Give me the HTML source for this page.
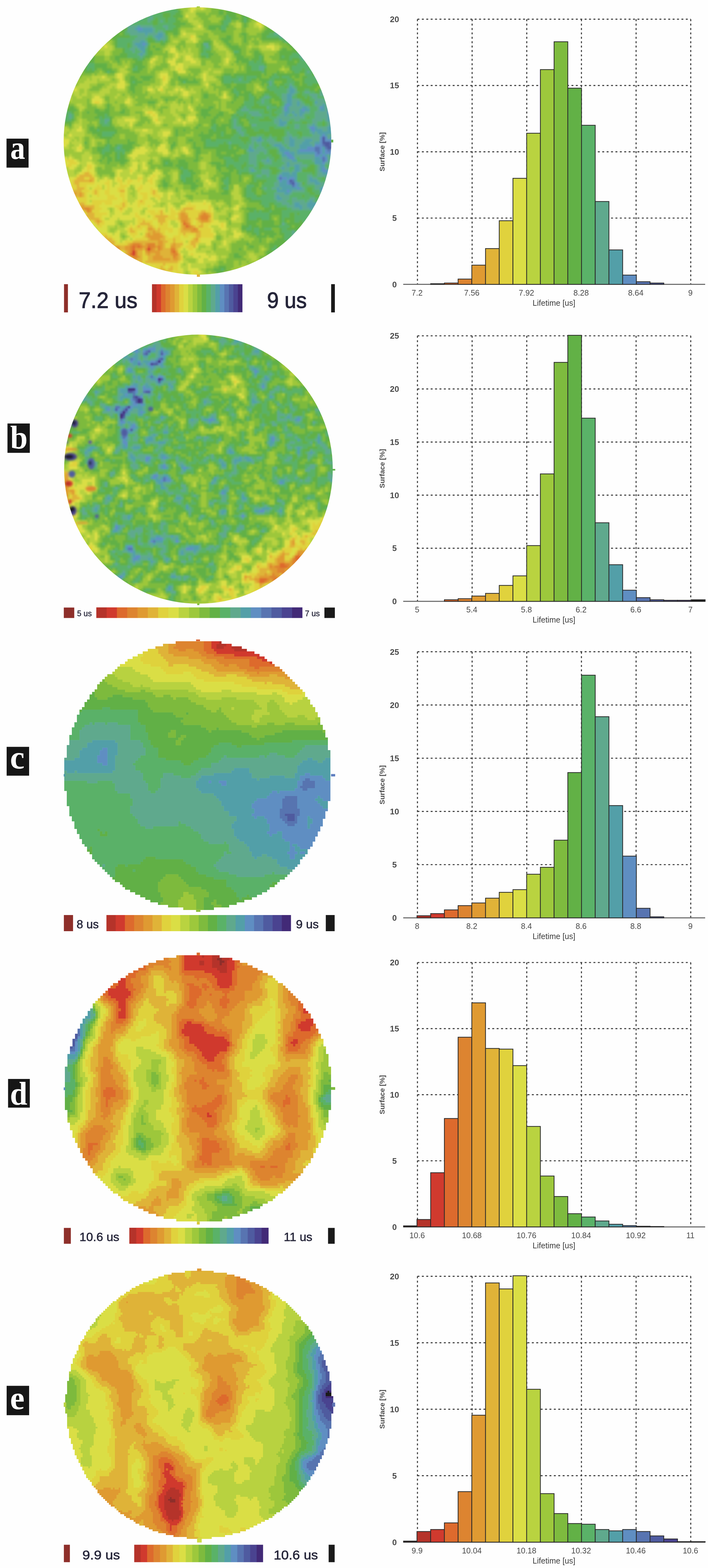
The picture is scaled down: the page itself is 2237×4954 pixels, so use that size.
<!DOCTYPE html>
<html lang="en"><head><meta charset="utf-8"><title>Lifetime maps and histograms</title>
<style>
html,body{margin:0;padding:0;background:#fefefe;}
body{width:2237px;height:4954px;}
svg{display:block;}
.tk{font-family:"Liberation Sans",Arial,sans-serif;font-size:25px;fill:#4a4a4a;}
.ty{font-family:"Liberation Sans",Arial,sans-serif;font-size:26px;font-weight:bold;fill:#4a4a4a;}
.ax{font-family:"Liberation Sans",Arial,sans-serif;font-size:25px;fill:#3c3c3c;}
.ay{font-family:"Liberation Sans",Arial,sans-serif;font-size:22.5px;font-weight:bold;fill:#4a4a4a;}
.lb{font-family:"Liberation Serif","Times New Roman",serif;font-weight:bold;font-size:103px;fill:#fff;}
.lg{font-family:"Liberation Sans",Arial,sans-serif;fill:#26263a;stroke:#26263a;}
.gr{stroke:#383838;stroke-width:3.2;stroke-dasharray:6.2 7.7;fill:none;}
.br{stroke:#2a2a2a;stroke-width:2.4;}
</style></head><body>
<svg width="2237" height="4954" viewBox="0 0 2237 4954" role="img" aria-label="Lifetime maps and histograms">
<rect x="0" y="0" width="2237" height="4954" fill="#fefefe"/>
<defs>
<clipPath id="cpa"><ellipse cx="624" cy="445.5" rx="422.9" ry="422.4"/></clipPath>
<filter id="fa" filterUnits="userSpaceOnUse" x="121.3" y="-57.2" width="1005.4" height="1005.4" color-interpolation-filters="sRGB">
<feGaussianBlur in="SourceGraphic" stdDeviation="14" result="b"/>
<feTurbulence type="fractalNoise" baseFrequency="0.03" numOctaves="2" seed="3" result="n"/>
<feColorMatrix in="n" type="matrix" values="1 0 0 0 0 1 0 0 0 0 1 0 0 0 0 0 0 0 0 1" result="g"/>
<feComposite in="b" in2="g" operator="arithmetic" k1="0" k2="1" k3="0.44" k4="-0.22" result="s"/>
<feComponentTransfer in="s"><feFuncR type="discrete" tableValues="0.816 0.816 0.816 0.816 0.816 0.816 0.816 0.816 0.816 0.816 0.816 0.816 0.816 0.816 0.867 0.867 0.867 0.867 0.867 0.867 0.867 0.867 0.867 0.867 0.867 0.867 0.867 0.875 0.875 0.875 0.875 0.875 0.875 0.875 0.875 0.875 0.875 0.875 0.875 0.878 0.878 0.878 0.878 0.878 0.878 0.878 0.878 0.878 0.878 0.878 0.878 0.878 0.878 0.878 0.878 0.878 0.878 0.878 0.878 0.878 0.878 0.878 0.878 0.878 0.878 0.878 0.878 0.878 0.878 0.855 0.855 0.855 0.855 0.855 0.855 0.855 0.855 0.855 0.855 0.855 0.855 0.855 0.855 0.855 0.725 0.725 0.725 0.725 0.725 0.725 0.725 0.725 0.725 0.725 0.725 0.725 0.725 0.725 0.616 0.616 0.616 0.616 0.616 0.616 0.616 0.616 0.616 0.616 0.616 0.616 0.616 0.616 0.616 0.616 0.494 0.494 0.494 0.494 0.494 0.494 0.494 0.494 0.494 0.494 0.494 0.494 0.494 0.494 0.494 0.494 0.494 0.494 0.494 0.494 0.384 0.384 0.384 0.384 0.384 0.384 0.384 0.384 0.384 0.384 0.384 0.384 0.384 0.384 0.384 0.384 0.384 0.384 0.353 0.353 0.353 0.353 0.353 0.353 0.353 0.353 0.353 0.353 0.353 0.353 0.353 0.353 0.353 0.353 0.353 0.353 0.353 0.373 0.373 0.373 0.373 0.373 0.373 0.373 0.373 0.373 0.373 0.373 0.373 0.373 0.373 0.373 0.373 0.325 0.325 0.325 0.325 0.325 0.325 0.325 0.325 0.325 0.325 0.325 0.325 0.325 0.373 0.373 0.373 0.373 0.373 0.373 0.373 0.373 0.373 0.373 0.373 0.373 0.345 0.345 0.345 0.345 0.345 0.345 0.345 0.345 0.345 0.345 0.310 0.310 0.310 0.310 0.310 0.310 0.310 0.310 0.310 0.310 0.310 0.310 0.310 0.310 0.310 0.310 0.310 0.310 0.310 0.310 0.310 0.310 0.310 0.310 0.310 0.310 0.310 0.310 0.310 0.310 0.310 0.310 0.310 0.310"/><feFuncG type="discrete" tableValues="0.227 0.227 0.227 0.227 0.227 0.227 0.227 0.227 0.227 0.227 0.227 0.227 0.227 0.227 0.416 0.416 0.416 0.416 0.518 0.518 0.518 0.518 0.518 0.518 0.518 0.518 0.518 0.604 0.604 0.604 0.604 0.604 0.604 0.604 0.604 0.604 0.604 0.604 0.604 0.702 0.702 0.702 0.702 0.702 0.702 0.702 0.702 0.702 0.702 0.702 0.702 0.702 0.702 0.824 0.824 0.824 0.824 0.824 0.824 0.824 0.824 0.824 0.824 0.824 0.824 0.824 0.824 0.824 0.824 0.871 0.871 0.871 0.871 0.871 0.871 0.871 0.871 0.871 0.871 0.871 0.871 0.871 0.871 0.871 0.827 0.827 0.827 0.827 0.827 0.827 0.827 0.827 0.827 0.827 0.827 0.827 0.827 0.827 0.784 0.784 0.784 0.784 0.784 0.784 0.784 0.784 0.784 0.784 0.784 0.784 0.784 0.784 0.784 0.784 0.733 0.733 0.733 0.733 0.733 0.733 0.733 0.733 0.733 0.733 0.733 0.733 0.733 0.733 0.733 0.733 0.733 0.733 0.733 0.733 0.694 0.694 0.694 0.694 0.694 0.694 0.694 0.694 0.694 0.694 0.694 0.694 0.694 0.694 0.694 0.694 0.694 0.694 0.698 0.698 0.698 0.698 0.698 0.698 0.698 0.698 0.698 0.698 0.698 0.698 0.698 0.698 0.698 0.698 0.698 0.698 0.698 0.663 0.663 0.663 0.663 0.663 0.663 0.663 0.663 0.663 0.663 0.663 0.663 0.663 0.663 0.663 0.663 0.624 0.624 0.624 0.624 0.624 0.624 0.624 0.624 0.624 0.624 0.624 0.624 0.624 0.557 0.557 0.557 0.557 0.557 0.557 0.557 0.557 0.557 0.557 0.557 0.557 0.455 0.455 0.455 0.455 0.455 0.455 0.455 0.455 0.455 0.455 0.357 0.357 0.357 0.357 0.357 0.357 0.357 0.357 0.357 0.357 0.357 0.357 0.357 0.357 0.357 0.357 0.357 0.357 0.357 0.357 0.357 0.357 0.357 0.357 0.357 0.357 0.357 0.357 0.357 0.357 0.357 0.357 0.357 0.357"/><feFuncB type="discrete" tableValues="0.180 0.180 0.180 0.180 0.180 0.180 0.180 0.180 0.180 0.180 0.180 0.180 0.180 0.180 0.176 0.176 0.176 0.176 0.188 0.188 0.188 0.188 0.188 0.188 0.188 0.188 0.188 0.196 0.196 0.196 0.196 0.196 0.196 0.196 0.196 0.196 0.196 0.196 0.196 0.220 0.220 0.220 0.220 0.220 0.220 0.220 0.220 0.220 0.220 0.220 0.220 0.220 0.220 0.239 0.239 0.239 0.239 0.239 0.239 0.239 0.239 0.239 0.239 0.239 0.239 0.239 0.239 0.239 0.239 0.271 0.271 0.271 0.271 0.271 0.271 0.271 0.271 0.271 0.271 0.271 0.271 0.271 0.271 0.271 0.251 0.251 0.251 0.251 0.251 0.251 0.251 0.251 0.251 0.251 0.251 0.251 0.251 0.251 0.235 0.235 0.235 0.235 0.235 0.235 0.235 0.235 0.235 0.235 0.235 0.235 0.235 0.235 0.235 0.235 0.243 0.243 0.243 0.243 0.243 0.243 0.243 0.243 0.243 0.243 0.243 0.243 0.243 0.243 0.243 0.243 0.243 0.243 0.243 0.243 0.275 0.275 0.275 0.275 0.275 0.275 0.275 0.275 0.275 0.275 0.275 0.275 0.275 0.275 0.275 0.275 0.275 0.275 0.408 0.408 0.408 0.408 0.408 0.408 0.408 0.408 0.408 0.408 0.408 0.408 0.408 0.408 0.408 0.408 0.408 0.408 0.408 0.553 0.553 0.553 0.553 0.553 0.553 0.553 0.553 0.553 0.553 0.553 0.553 0.553 0.553 0.553 0.553 0.659 0.659 0.659 0.659 0.659 0.659 0.659 0.659 0.659 0.659 0.659 0.659 0.659 0.761 0.761 0.761 0.761 0.761 0.761 0.761 0.761 0.761 0.761 0.761 0.761 0.694 0.694 0.694 0.694 0.694 0.694 0.694 0.694 0.694 0.694 0.627 0.627 0.627 0.627 0.627 0.627 0.627 0.627 0.627 0.627 0.627 0.627 0.627 0.627 0.627 0.627 0.627 0.627 0.627 0.627 0.627 0.627 0.627 0.627 0.627 0.627 0.627 0.627 0.627 0.627 0.627 0.627 0.627 0.627"/></feComponentTransfer>
<feOffset dx="0" dy="0" result="c0"/>
<feFlood x="125.3" y="-53.2" width="1" height="1" flood-color="#000"/>
<feComposite width="9" height="9"/>
<feTile result="t"/>
<feComposite in="c0" in2="t" operator="in"/>
<feMorphology operator="dilate" radius="4"/>
<feGaussianBlur stdDeviation="2.5"/>
</filter>
<clipPath id="cpb"><ellipse cx="627" cy="1482.2" rx="424.4" ry="425.1"/></clipPath>
<filter id="fb" filterUnits="userSpaceOnUse" x="122.3" y="977.5" width="1009.4" height="1009.4" color-interpolation-filters="sRGB">
<feGaussianBlur in="SourceGraphic" stdDeviation="22" result="b"/>
<feTurbulence type="fractalNoise" baseFrequency="0.032" numOctaves="2" seed="5" result="n"/>
<feColorMatrix in="n" type="matrix" values="1 0 0 0 0 1 0 0 0 0 1 0 0 0 0 0 0 0 0 1" result="g"/>
<feComposite in="b" in2="g" operator="arithmetic" k1="0" k2="1" k3="0.6" k4="-0.3" result="s"/>
<feComponentTransfer in="s"><feFuncR type="discrete" tableValues="0.867 0.867 0.867 0.867 0.867 0.867 0.867 0.867 0.867 0.867 0.867 0.867 0.867 0.867 0.867 0.867 0.867 0.867 0.867 0.867 0.867 0.867 0.867 0.867 0.867 0.867 0.867 0.867 0.867 0.867 0.867 0.867 0.867 0.867 0.867 0.867 0.867 0.867 0.867 0.867 0.867 0.867 0.867 0.867 0.867 0.867 0.867 0.867 0.867 0.867 0.867 0.867 0.867 0.867 0.867 0.867 0.867 0.867 0.875 0.875 0.875 0.875 0.875 0.875 0.875 0.875 0.875 0.875 0.875 0.875 0.875 0.875 0.875 0.875 0.878 0.878 0.878 0.878 0.878 0.878 0.878 0.878 0.878 0.878 0.878 0.878 0.878 0.878 0.878 0.878 0.878 0.878 0.878 0.878 0.878 0.878 0.878 0.878 0.878 0.878 0.878 0.878 0.878 0.878 0.878 0.878 0.855 0.855 0.855 0.855 0.855 0.855 0.855 0.855 0.855 0.855 0.855 0.855 0.855 0.855 0.725 0.725 0.725 0.725 0.725 0.725 0.725 0.725 0.725 0.725 0.725 0.725 0.725 0.725 0.725 0.616 0.616 0.616 0.616 0.616 0.616 0.616 0.616 0.616 0.616 0.616 0.616 0.616 0.616 0.616 0.616 0.616 0.616 0.494 0.494 0.494 0.494 0.494 0.494 0.494 0.494 0.494 0.494 0.494 0.494 0.494 0.494 0.494 0.494 0.494 0.494 0.494 0.384 0.384 0.384 0.384 0.384 0.384 0.384 0.384 0.384 0.384 0.384 0.384 0.384 0.384 0.384 0.384 0.384 0.384 0.353 0.353 0.353 0.353 0.353 0.353 0.353 0.353 0.353 0.353 0.353 0.353 0.353 0.353 0.353 0.373 0.373 0.373 0.373 0.373 0.373 0.373 0.373 0.373 0.373 0.373 0.373 0.373 0.373 0.325 0.325 0.325 0.325 0.325 0.325 0.325 0.325 0.325 0.325 0.325 0.325 0.325 0.373 0.373 0.373 0.373 0.373 0.373 0.373 0.373 0.373 0.345 0.345 0.345 0.345 0.345 0.310 0.310 0.310 0.310 0.310 0.290 0.290 0.290 0.290 0.259"/><feFuncG type="discrete" tableValues="0.416 0.416 0.416 0.416 0.416 0.416 0.416 0.416 0.416 0.416 0.416 0.416 0.416 0.416 0.416 0.416 0.416 0.416 0.416 0.416 0.416 0.416 0.416 0.416 0.416 0.416 0.416 0.416 0.416 0.416 0.416 0.416 0.416 0.416 0.416 0.416 0.416 0.416 0.416 0.416 0.416 0.416 0.416 0.416 0.518 0.518 0.518 0.518 0.518 0.518 0.518 0.518 0.518 0.518 0.518 0.518 0.518 0.518 0.604 0.604 0.604 0.604 0.604 0.604 0.604 0.604 0.604 0.604 0.604 0.604 0.604 0.604 0.604 0.604 0.702 0.702 0.702 0.702 0.702 0.702 0.702 0.702 0.702 0.702 0.702 0.702 0.702 0.702 0.702 0.824 0.824 0.824 0.824 0.824 0.824 0.824 0.824 0.824 0.824 0.824 0.824 0.824 0.824 0.824 0.824 0.824 0.871 0.871 0.871 0.871 0.871 0.871 0.871 0.871 0.871 0.871 0.871 0.871 0.871 0.871 0.827 0.827 0.827 0.827 0.827 0.827 0.827 0.827 0.827 0.827 0.827 0.827 0.827 0.827 0.827 0.784 0.784 0.784 0.784 0.784 0.784 0.784 0.784 0.784 0.784 0.784 0.784 0.784 0.784 0.784 0.784 0.784 0.784 0.733 0.733 0.733 0.733 0.733 0.733 0.733 0.733 0.733 0.733 0.733 0.733 0.733 0.733 0.733 0.733 0.733 0.733 0.733 0.694 0.694 0.694 0.694 0.694 0.694 0.694 0.694 0.694 0.694 0.694 0.694 0.694 0.694 0.694 0.694 0.694 0.694 0.698 0.698 0.698 0.698 0.698 0.698 0.698 0.698 0.698 0.698 0.698 0.698 0.698 0.698 0.698 0.663 0.663 0.663 0.663 0.663 0.663 0.663 0.663 0.663 0.663 0.663 0.663 0.663 0.663 0.624 0.624 0.624 0.624 0.624 0.624 0.624 0.624 0.624 0.624 0.624 0.624 0.624 0.557 0.557 0.557 0.557 0.557 0.557 0.557 0.557 0.557 0.455 0.455 0.455 0.455 0.455 0.357 0.357 0.357 0.357 0.357 0.263 0.263 0.263 0.263 0.165"/><feFuncB type="discrete" tableValues="0.176 0.176 0.176 0.176 0.176 0.176 0.176 0.176 0.176 0.176 0.176 0.176 0.176 0.176 0.176 0.176 0.176 0.176 0.176 0.176 0.176 0.176 0.176 0.176 0.176 0.176 0.176 0.176 0.176 0.176 0.176 0.176 0.176 0.176 0.176 0.176 0.176 0.176 0.176 0.176 0.176 0.176 0.176 0.176 0.188 0.188 0.188 0.188 0.188 0.188 0.188 0.188 0.188 0.188 0.188 0.188 0.188 0.188 0.196 0.196 0.196 0.196 0.196 0.196 0.196 0.196 0.196 0.196 0.196 0.196 0.196 0.196 0.196 0.196 0.220 0.220 0.220 0.220 0.220 0.220 0.220 0.220 0.220 0.220 0.220 0.220 0.220 0.220 0.220 0.239 0.239 0.239 0.239 0.239 0.239 0.239 0.239 0.239 0.239 0.239 0.239 0.239 0.239 0.239 0.239 0.239 0.271 0.271 0.271 0.271 0.271 0.271 0.271 0.271 0.271 0.271 0.271 0.271 0.271 0.271 0.251 0.251 0.251 0.251 0.251 0.251 0.251 0.251 0.251 0.251 0.251 0.251 0.251 0.251 0.251 0.235 0.235 0.235 0.235 0.235 0.235 0.235 0.235 0.235 0.235 0.235 0.235 0.235 0.235 0.235 0.235 0.235 0.235 0.243 0.243 0.243 0.243 0.243 0.243 0.243 0.243 0.243 0.243 0.243 0.243 0.243 0.243 0.243 0.243 0.243 0.243 0.243 0.275 0.275 0.275 0.275 0.275 0.275 0.275 0.275 0.275 0.275 0.275 0.275 0.275 0.275 0.275 0.275 0.275 0.275 0.408 0.408 0.408 0.408 0.408 0.408 0.408 0.408 0.408 0.408 0.408 0.408 0.408 0.408 0.408 0.553 0.553 0.553 0.553 0.553 0.553 0.553 0.553 0.553 0.553 0.553 0.553 0.553 0.553 0.659 0.659 0.659 0.659 0.659 0.659 0.659 0.659 0.659 0.659 0.659 0.659 0.659 0.761 0.761 0.761 0.761 0.761 0.761 0.761 0.761 0.761 0.694 0.694 0.694 0.694 0.694 0.627 0.627 0.627 0.627 0.627 0.565 0.565 0.565 0.565 0.467"/></feComponentTransfer>
<feOffset dx="0" dy="0" result="c0"/>
<feFlood x="126.3" y="981.5" width="1" height="1" flood-color="#000"/>
<feComposite width="9" height="9"/>
<feTile result="t"/>
<feComposite in="c0" in2="t" operator="in"/>
<feMorphology operator="dilate" radius="4"/>
<feGaussianBlur stdDeviation="2.5"/>
</filter>
<clipPath id="cpc"><ellipse cx="625.9" cy="2448.7" rx="421.5" ry="424.6" shape-rendering="crispEdges"/></clipPath>
<filter id="fc" filterUnits="userSpaceOnUse" x="122.9" y="1945.7" width="1006" height="1006" color-interpolation-filters="sRGB">
<feGaussianBlur in="SourceGraphic" stdDeviation="16" result="b"/>
<feTurbulence type="fractalNoise" baseFrequency="0.02" numOctaves="2" seed="7" result="n"/>
<feColorMatrix in="n" type="matrix" values="1 0 0 0 0 1 0 0 0 0 1 0 0 0 0 0 0 0 0 1" result="g"/>
<feComposite in="b" in2="g" operator="arithmetic" k1="0" k2="1" k3="0.06" k4="-0.03" result="s"/>
<feComponentTransfer in="s"><feFuncR type="discrete" tableValues="0.710 0.710 0.710 0.710 0.710 0.710 0.710 0.710 0.710 0.710 0.710 0.710 0.710 0.710 0.710 0.710 0.710 0.710 0.710 0.710 0.710 0.710 0.710 0.710 0.710 0.710 0.710 0.710 0.710 0.710 0.816 0.816 0.816 0.816 0.816 0.816 0.816 0.816 0.867 0.867 0.867 0.867 0.867 0.867 0.867 0.867 0.867 0.867 0.867 0.867 0.867 0.867 0.867 0.867 0.867 0.875 0.875 0.875 0.875 0.875 0.875 0.875 0.875 0.875 0.875 0.875 0.878 0.878 0.878 0.878 0.878 0.878 0.878 0.878 0.878 0.878 0.878 0.878 0.878 0.878 0.878 0.878 0.878 0.878 0.878 0.878 0.878 0.878 0.878 0.878 0.878 0.878 0.878 0.878 0.855 0.855 0.855 0.855 0.855 0.855 0.855 0.855 0.855 0.855 0.855 0.855 0.855 0.855 0.725 0.725 0.725 0.725 0.725 0.725 0.725 0.725 0.725 0.725 0.725 0.725 0.725 0.616 0.616 0.616 0.616 0.616 0.616 0.616 0.616 0.616 0.616 0.494 0.494 0.494 0.494 0.494 0.494 0.494 0.494 0.494 0.494 0.494 0.494 0.494 0.494 0.384 0.384 0.384 0.384 0.384 0.384 0.384 0.384 0.384 0.384 0.384 0.384 0.384 0.384 0.384 0.384 0.384 0.384 0.353 0.353 0.353 0.353 0.353 0.353 0.353 0.353 0.353 0.353 0.353 0.353 0.353 0.353 0.353 0.353 0.353 0.373 0.373 0.373 0.373 0.373 0.373 0.373 0.373 0.373 0.373 0.373 0.373 0.373 0.373 0.373 0.373 0.325 0.325 0.325 0.325 0.325 0.325 0.325 0.325 0.325 0.325 0.325 0.325 0.325 0.325 0.325 0.325 0.373 0.373 0.373 0.373 0.373 0.373 0.373 0.373 0.373 0.345 0.345 0.345 0.345 0.345 0.345 0.310 0.310 0.310 0.310 0.310 0.310 0.310 0.310 0.310 0.310 0.310 0.310 0.310 0.310 0.310 0.310 0.310 0.310 0.310 0.310 0.310 0.310 0.310 0.310 0.310 0.310 0.310 0.310 0.310"/><feFuncG type="discrete" tableValues="0.200 0.200 0.200 0.200 0.200 0.200 0.200 0.200 0.200 0.200 0.200 0.200 0.200 0.200 0.200 0.200 0.200 0.200 0.200 0.200 0.200 0.200 0.200 0.200 0.200 0.200 0.200 0.200 0.200 0.200 0.227 0.227 0.227 0.227 0.227 0.227 0.227 0.227 0.416 0.416 0.416 0.416 0.416 0.416 0.416 0.518 0.518 0.518 0.518 0.518 0.518 0.518 0.518 0.518 0.518 0.604 0.604 0.604 0.604 0.604 0.604 0.604 0.604 0.604 0.604 0.604 0.702 0.702 0.702 0.702 0.702 0.702 0.702 0.702 0.702 0.702 0.702 0.702 0.702 0.702 0.824 0.824 0.824 0.824 0.824 0.824 0.824 0.824 0.824 0.824 0.824 0.824 0.824 0.824 0.871 0.871 0.871 0.871 0.871 0.871 0.871 0.871 0.871 0.871 0.871 0.871 0.871 0.871 0.827 0.827 0.827 0.827 0.827 0.827 0.827 0.827 0.827 0.827 0.827 0.827 0.827 0.784 0.784 0.784 0.784 0.784 0.784 0.784 0.784 0.784 0.784 0.733 0.733 0.733 0.733 0.733 0.733 0.733 0.733 0.733 0.733 0.733 0.733 0.733 0.733 0.694 0.694 0.694 0.694 0.694 0.694 0.694 0.694 0.694 0.694 0.694 0.694 0.694 0.694 0.694 0.694 0.694 0.694 0.698 0.698 0.698 0.698 0.698 0.698 0.698 0.698 0.698 0.698 0.698 0.698 0.698 0.698 0.698 0.698 0.698 0.663 0.663 0.663 0.663 0.663 0.663 0.663 0.663 0.663 0.663 0.663 0.663 0.663 0.663 0.663 0.663 0.624 0.624 0.624 0.624 0.624 0.624 0.624 0.624 0.624 0.624 0.624 0.624 0.624 0.624 0.624 0.624 0.557 0.557 0.557 0.557 0.557 0.557 0.557 0.557 0.557 0.455 0.455 0.455 0.455 0.455 0.455 0.357 0.357 0.357 0.357 0.357 0.357 0.357 0.357 0.357 0.357 0.357 0.357 0.357 0.357 0.357 0.357 0.357 0.357 0.357 0.357 0.357 0.357 0.357 0.357 0.357 0.357 0.357 0.357 0.357"/><feFuncB type="discrete" tableValues="0.165 0.165 0.165 0.165 0.165 0.165 0.165 0.165 0.165 0.165 0.165 0.165 0.165 0.165 0.165 0.165 0.165 0.165 0.165 0.165 0.165 0.165 0.165 0.165 0.165 0.165 0.165 0.165 0.165 0.165 0.180 0.180 0.180 0.180 0.180 0.180 0.180 0.180 0.176 0.176 0.176 0.176 0.176 0.176 0.176 0.188 0.188 0.188 0.188 0.188 0.188 0.188 0.188 0.188 0.188 0.196 0.196 0.196 0.196 0.196 0.196 0.196 0.196 0.196 0.196 0.196 0.220 0.220 0.220 0.220 0.220 0.220 0.220 0.220 0.220 0.220 0.220 0.220 0.220 0.220 0.239 0.239 0.239 0.239 0.239 0.239 0.239 0.239 0.239 0.239 0.239 0.239 0.239 0.239 0.271 0.271 0.271 0.271 0.271 0.271 0.271 0.271 0.271 0.271 0.271 0.271 0.271 0.271 0.251 0.251 0.251 0.251 0.251 0.251 0.251 0.251 0.251 0.251 0.251 0.251 0.251 0.235 0.235 0.235 0.235 0.235 0.235 0.235 0.235 0.235 0.235 0.243 0.243 0.243 0.243 0.243 0.243 0.243 0.243 0.243 0.243 0.243 0.243 0.243 0.243 0.275 0.275 0.275 0.275 0.275 0.275 0.275 0.275 0.275 0.275 0.275 0.275 0.275 0.275 0.275 0.275 0.275 0.275 0.408 0.408 0.408 0.408 0.408 0.408 0.408 0.408 0.408 0.408 0.408 0.408 0.408 0.408 0.408 0.408 0.408 0.553 0.553 0.553 0.553 0.553 0.553 0.553 0.553 0.553 0.553 0.553 0.553 0.553 0.553 0.553 0.553 0.659 0.659 0.659 0.659 0.659 0.659 0.659 0.659 0.659 0.659 0.659 0.659 0.659 0.659 0.659 0.659 0.761 0.761 0.761 0.761 0.761 0.761 0.761 0.761 0.761 0.694 0.694 0.694 0.694 0.694 0.694 0.627 0.627 0.627 0.627 0.627 0.627 0.627 0.627 0.627 0.627 0.627 0.627 0.627 0.627 0.627 0.627 0.627 0.627 0.627 0.627 0.627 0.627 0.627 0.627 0.627 0.627 0.627 0.627 0.627"/></feComponentTransfer>
</filter>
<filter id="pc" filterUnits="userSpaceOnUse" x="122.9" y="1945.7" width="1006" height="1006" color-interpolation-filters="sRGB">
<feFlood x="126.9" y="1949.7" width="1" height="1" flood-color="#000"/>
<feComposite width="9" height="9"/>
<feTile result="t"/>
<feComposite in="SourceGraphic" in2="t" operator="in"/>
<feMorphology operator="dilate" radius="4"/>
<feComponentTransfer><feFuncA type="discrete" tableValues="0 1"/></feComponentTransfer>
</filter>
<clipPath id="cpd"><ellipse cx="625.9" cy="3438.8" rx="421.5" ry="422" shape-rendering="crispEdges"/></clipPath>
<filter id="fd" filterUnits="userSpaceOnUse" x="124.2" y="2937.1" width="1003.4" height="1003.4" color-interpolation-filters="sRGB">
<feGaussianBlur in="SourceGraphic" stdDeviation="18" result="b"/>
<feTurbulence type="fractalNoise" baseFrequency="0.02" numOctaves="2" seed="9" result="n"/>
<feColorMatrix in="n" type="matrix" values="1 0 0 0 0 1 0 0 0 0 1 0 0 0 0 0 0 0 0 1" result="g"/>
<feComposite in="b" in2="g" operator="arithmetic" k1="0" k2="1" k3="0.1" k4="-0.05" result="s"/>
<feComponentTransfer in="s"><feFuncR type="discrete" tableValues="0.557 0.557 0.557 0.557 0.557 0.557 0.557 0.557 0.557 0.557 0.557 0.557 0.557 0.557 0.557 0.557 0.557 0.557 0.557 0.557 0.557 0.557 0.557 0.557 0.557 0.557 0.557 0.557 0.557 0.557 0.557 0.557 0.557 0.710 0.710 0.710 0.710 0.710 0.710 0.710 0.710 0.710 0.816 0.816 0.816 0.816 0.816 0.816 0.816 0.816 0.816 0.816 0.816 0.816 0.816 0.867 0.867 0.867 0.867 0.867 0.867 0.867 0.867 0.867 0.867 0.867 0.867 0.867 0.867 0.867 0.867 0.867 0.867 0.867 0.875 0.875 0.875 0.875 0.875 0.875 0.875 0.875 0.875 0.875 0.875 0.878 0.878 0.878 0.878 0.878 0.878 0.878 0.878 0.878 0.878 0.878 0.878 0.878 0.878 0.878 0.878 0.878 0.878 0.878 0.878 0.878 0.878 0.878 0.855 0.855 0.855 0.855 0.855 0.855 0.855 0.855 0.855 0.855 0.855 0.855 0.855 0.725 0.725 0.725 0.725 0.725 0.725 0.725 0.725 0.725 0.725 0.725 0.725 0.725 0.725 0.616 0.616 0.616 0.616 0.616 0.616 0.616 0.616 0.494 0.494 0.494 0.494 0.494 0.494 0.494 0.384 0.384 0.384 0.384 0.384 0.384 0.353 0.353 0.353 0.353 0.353 0.353 0.373 0.373 0.373 0.373 0.373 0.373 0.373 0.373 0.373 0.373 0.325 0.325 0.325 0.325 0.325 0.325 0.325 0.325 0.325 0.325 0.325 0.325 0.325 0.373 0.373 0.373 0.373 0.373 0.373 0.373 0.373 0.373 0.345 0.345 0.345 0.345 0.345 0.310 0.310 0.310 0.310 0.310 0.310 0.310 0.310 0.310 0.310 0.310 0.310 0.310 0.310 0.310 0.310 0.310 0.310 0.310 0.310 0.310 0.310 0.310 0.310 0.310 0.310 0.310 0.310 0.310 0.310 0.310 0.310 0.310 0.310 0.310 0.310 0.310 0.310 0.310 0.310 0.310 0.310 0.310 0.310 0.310 0.310 0.310 0.310 0.310 0.310 0.310 0.310 0.310 0.310 0.310 0.310 0.310"/><feFuncG type="discrete" tableValues="0.184 0.184 0.184 0.184 0.184 0.184 0.184 0.184 0.184 0.184 0.184 0.184 0.184 0.184 0.184 0.184 0.184 0.184 0.184 0.184 0.184 0.184 0.184 0.184 0.184 0.184 0.184 0.184 0.184 0.184 0.184 0.184 0.184 0.200 0.200 0.200 0.200 0.200 0.200 0.200 0.200 0.200 0.227 0.227 0.227 0.227 0.227 0.227 0.227 0.227 0.227 0.227 0.227 0.227 0.227 0.416 0.416 0.416 0.416 0.416 0.416 0.416 0.416 0.416 0.416 0.518 0.518 0.518 0.518 0.518 0.518 0.518 0.518 0.518 0.604 0.604 0.604 0.604 0.604 0.604 0.604 0.604 0.604 0.604 0.604 0.702 0.702 0.702 0.702 0.702 0.702 0.702 0.702 0.702 0.702 0.702 0.702 0.824 0.824 0.824 0.824 0.824 0.824 0.824 0.824 0.824 0.824 0.824 0.871 0.871 0.871 0.871 0.871 0.871 0.871 0.871 0.871 0.871 0.871 0.871 0.871 0.827 0.827 0.827 0.827 0.827 0.827 0.827 0.827 0.827 0.827 0.827 0.827 0.827 0.827 0.784 0.784 0.784 0.784 0.784 0.784 0.784 0.784 0.733 0.733 0.733 0.733 0.733 0.733 0.733 0.694 0.694 0.694 0.694 0.694 0.694 0.698 0.698 0.698 0.698 0.698 0.698 0.663 0.663 0.663 0.663 0.663 0.663 0.663 0.663 0.663 0.663 0.624 0.624 0.624 0.624 0.624 0.624 0.624 0.624 0.624 0.624 0.624 0.624 0.624 0.557 0.557 0.557 0.557 0.557 0.557 0.557 0.557 0.557 0.455 0.455 0.455 0.455 0.455 0.357 0.357 0.357 0.357 0.357 0.357 0.357 0.357 0.357 0.357 0.357 0.357 0.357 0.357 0.357 0.357 0.357 0.357 0.357 0.357 0.357 0.357 0.357 0.357 0.357 0.357 0.357 0.357 0.357 0.357 0.357 0.357 0.357 0.357 0.357 0.357 0.357 0.357 0.357 0.357 0.357 0.357 0.357 0.357 0.357 0.357 0.357 0.357 0.357 0.357 0.357 0.357 0.357 0.357 0.357 0.357 0.357"/><feFuncB type="discrete" tableValues="0.165 0.165 0.165 0.165 0.165 0.165 0.165 0.165 0.165 0.165 0.165 0.165 0.165 0.165 0.165 0.165 0.165 0.165 0.165 0.165 0.165 0.165 0.165 0.165 0.165 0.165 0.165 0.165 0.165 0.165 0.165 0.165 0.165 0.165 0.165 0.165 0.165 0.165 0.165 0.165 0.165 0.165 0.180 0.180 0.180 0.180 0.180 0.180 0.180 0.180 0.180 0.180 0.180 0.180 0.180 0.176 0.176 0.176 0.176 0.176 0.176 0.176 0.176 0.176 0.176 0.188 0.188 0.188 0.188 0.188 0.188 0.188 0.188 0.188 0.196 0.196 0.196 0.196 0.196 0.196 0.196 0.196 0.196 0.196 0.196 0.220 0.220 0.220 0.220 0.220 0.220 0.220 0.220 0.220 0.220 0.220 0.220 0.239 0.239 0.239 0.239 0.239 0.239 0.239 0.239 0.239 0.239 0.239 0.271 0.271 0.271 0.271 0.271 0.271 0.271 0.271 0.271 0.271 0.271 0.271 0.271 0.251 0.251 0.251 0.251 0.251 0.251 0.251 0.251 0.251 0.251 0.251 0.251 0.251 0.251 0.235 0.235 0.235 0.235 0.235 0.235 0.235 0.235 0.243 0.243 0.243 0.243 0.243 0.243 0.243 0.275 0.275 0.275 0.275 0.275 0.275 0.408 0.408 0.408 0.408 0.408 0.408 0.553 0.553 0.553 0.553 0.553 0.553 0.553 0.553 0.553 0.553 0.659 0.659 0.659 0.659 0.659 0.659 0.659 0.659 0.659 0.659 0.659 0.659 0.659 0.761 0.761 0.761 0.761 0.761 0.761 0.761 0.761 0.761 0.694 0.694 0.694 0.694 0.694 0.627 0.627 0.627 0.627 0.627 0.627 0.627 0.627 0.627 0.627 0.627 0.627 0.627 0.627 0.627 0.627 0.627 0.627 0.627 0.627 0.627 0.627 0.627 0.627 0.627 0.627 0.627 0.627 0.627 0.627 0.627 0.627 0.627 0.627 0.627 0.627 0.627 0.627 0.627 0.627 0.627 0.627 0.627 0.627 0.627 0.627 0.627 0.627 0.627 0.627 0.627 0.627 0.627 0.627 0.627 0.627 0.627"/></feComponentTransfer>
</filter>
<filter id="pd" filterUnits="userSpaceOnUse" x="124.2" y="2937.1" width="1003.4" height="1003.4" color-interpolation-filters="sRGB">
<feFlood x="128.2" y="2941.1" width="1" height="1" flood-color="#000"/>
<feComposite width="9" height="9"/>
<feTile result="t"/>
<feComposite in="SourceGraphic" in2="t" operator="in"/>
<feMorphology operator="dilate" radius="4"/>
<feComponentTransfer><feFuncA type="discrete" tableValues="0 1"/></feComponentTransfer>
</filter>
<clipPath id="cpe"><ellipse cx="629.3" cy="4438.1" rx="421" ry="422.1" shape-rendering="crispEdges"/></clipPath>
<filter id="fe" filterUnits="userSpaceOnUse" x="127.8" y="3936.6" width="1003" height="1003" color-interpolation-filters="sRGB">
<feGaussianBlur in="SourceGraphic" stdDeviation="18" result="b"/>
<feTurbulence type="fractalNoise" baseFrequency="0.02" numOctaves="2" seed="11" result="n"/>
<feColorMatrix in="n" type="matrix" values="1 0 0 0 0 1 0 0 0 0 1 0 0 0 0 0 0 0 0 1" result="g"/>
<feComposite in="b" in2="g" operator="arithmetic" k1="0" k2="1" k3="0.08" k4="-0.04" result="s"/>
<feComponentTransfer in="s"><feFuncR type="discrete" tableValues="0.557 0.557 0.557 0.557 0.557 0.557 0.557 0.557 0.557 0.557 0.557 0.557 0.557 0.557 0.557 0.557 0.557 0.557 0.557 0.557 0.557 0.557 0.557 0.557 0.557 0.557 0.557 0.557 0.557 0.557 0.557 0.557 0.710 0.710 0.710 0.710 0.710 0.710 0.710 0.710 0.710 0.710 0.710 0.816 0.816 0.816 0.816 0.816 0.816 0.816 0.867 0.867 0.867 0.867 0.867 0.867 0.867 0.867 0.867 0.867 0.867 0.867 0.867 0.867 0.867 0.867 0.875 0.875 0.875 0.875 0.875 0.875 0.875 0.875 0.875 0.875 0.875 0.875 0.878 0.878 0.878 0.878 0.878 0.878 0.878 0.878 0.878 0.878 0.878 0.878 0.878 0.878 0.878 0.878 0.855 0.855 0.855 0.855 0.855 0.855 0.855 0.855 0.855 0.855 0.855 0.855 0.855 0.725 0.725 0.725 0.725 0.725 0.725 0.725 0.725 0.725 0.725 0.725 0.725 0.725 0.725 0.725 0.725 0.725 0.616 0.616 0.616 0.616 0.616 0.616 0.616 0.616 0.616 0.616 0.616 0.494 0.494 0.494 0.494 0.494 0.494 0.494 0.494 0.494 0.384 0.384 0.384 0.384 0.384 0.384 0.384 0.384 0.384 0.384 0.384 0.384 0.353 0.353 0.353 0.353 0.353 0.353 0.353 0.353 0.353 0.353 0.353 0.373 0.373 0.373 0.373 0.373 0.373 0.373 0.373 0.373 0.373 0.325 0.325 0.325 0.325 0.325 0.325 0.325 0.325 0.325 0.373 0.373 0.373 0.373 0.373 0.373 0.373 0.373 0.373 0.345 0.345 0.345 0.345 0.345 0.345 0.345 0.345 0.345 0.345 0.345 0.310 0.310 0.310 0.310 0.310 0.310 0.310 0.310 0.310 0.290 0.290 0.290 0.290 0.290 0.290 0.290 0.259 0.102 0.102 0.102 0.102 0.102 0.102 0.102 0.102 0.102 0.102 0.102 0.102 0.102 0.102 0.102 0.102 0.102 0.102 0.102 0.102 0.102 0.102 0.102 0.102 0.102 0.102 0.102 0.102 0.102 0.102 0.102 0.102 0.102"/><feFuncG type="discrete" tableValues="0.184 0.184 0.184 0.184 0.184 0.184 0.184 0.184 0.184 0.184 0.184 0.184 0.184 0.184 0.184 0.184 0.184 0.184 0.184 0.184 0.184 0.184 0.184 0.184 0.184 0.184 0.184 0.184 0.184 0.184 0.184 0.184 0.200 0.200 0.200 0.200 0.200 0.200 0.200 0.200 0.200 0.200 0.200 0.227 0.227 0.227 0.227 0.227 0.227 0.227 0.416 0.416 0.416 0.416 0.416 0.518 0.518 0.518 0.518 0.518 0.518 0.518 0.518 0.518 0.518 0.518 0.604 0.604 0.604 0.604 0.604 0.604 0.604 0.604 0.604 0.604 0.604 0.604 0.702 0.702 0.702 0.702 0.702 0.702 0.702 0.702 0.702 0.824 0.824 0.824 0.824 0.824 0.824 0.824 0.871 0.871 0.871 0.871 0.871 0.871 0.871 0.871 0.871 0.871 0.871 0.871 0.871 0.827 0.827 0.827 0.827 0.827 0.827 0.827 0.827 0.827 0.827 0.827 0.827 0.827 0.827 0.827 0.827 0.827 0.784 0.784 0.784 0.784 0.784 0.784 0.784 0.784 0.784 0.784 0.784 0.733 0.733 0.733 0.733 0.733 0.733 0.733 0.733 0.733 0.694 0.694 0.694 0.694 0.694 0.694 0.694 0.694 0.694 0.694 0.694 0.694 0.698 0.698 0.698 0.698 0.698 0.698 0.698 0.698 0.698 0.698 0.698 0.663 0.663 0.663 0.663 0.663 0.663 0.663 0.663 0.663 0.663 0.624 0.624 0.624 0.624 0.624 0.624 0.624 0.624 0.624 0.557 0.557 0.557 0.557 0.557 0.557 0.557 0.557 0.557 0.455 0.455 0.455 0.455 0.455 0.455 0.455 0.455 0.455 0.455 0.455 0.357 0.357 0.357 0.357 0.357 0.357 0.357 0.357 0.357 0.263 0.263 0.263 0.263 0.263 0.263 0.263 0.165 0.102 0.102 0.102 0.102 0.102 0.102 0.102 0.102 0.102 0.102 0.102 0.102 0.102 0.102 0.102 0.102 0.102 0.102 0.102 0.102 0.102 0.102 0.102 0.102 0.102 0.102 0.102 0.102 0.102 0.102 0.102 0.102 0.102"/><feFuncB type="discrete" tableValues="0.165 0.165 0.165 0.165 0.165 0.165 0.165 0.165 0.165 0.165 0.165 0.165 0.165 0.165 0.165 0.165 0.165 0.165 0.165 0.165 0.165 0.165 0.165 0.165 0.165 0.165 0.165 0.165 0.165 0.165 0.165 0.165 0.165 0.165 0.165 0.165 0.165 0.165 0.165 0.165 0.165 0.165 0.165 0.180 0.180 0.180 0.180 0.180 0.180 0.180 0.176 0.176 0.176 0.176 0.176 0.188 0.188 0.188 0.188 0.188 0.188 0.188 0.188 0.188 0.188 0.188 0.196 0.196 0.196 0.196 0.196 0.196 0.196 0.196 0.196 0.196 0.196 0.196 0.220 0.220 0.220 0.220 0.220 0.220 0.220 0.220 0.220 0.239 0.239 0.239 0.239 0.239 0.239 0.239 0.271 0.271 0.271 0.271 0.271 0.271 0.271 0.271 0.271 0.271 0.271 0.271 0.271 0.251 0.251 0.251 0.251 0.251 0.251 0.251 0.251 0.251 0.251 0.251 0.251 0.251 0.251 0.251 0.251 0.251 0.235 0.235 0.235 0.235 0.235 0.235 0.235 0.235 0.235 0.235 0.235 0.243 0.243 0.243 0.243 0.243 0.243 0.243 0.243 0.243 0.275 0.275 0.275 0.275 0.275 0.275 0.275 0.275 0.275 0.275 0.275 0.275 0.408 0.408 0.408 0.408 0.408 0.408 0.408 0.408 0.408 0.408 0.408 0.553 0.553 0.553 0.553 0.553 0.553 0.553 0.553 0.553 0.553 0.659 0.659 0.659 0.659 0.659 0.659 0.659 0.659 0.659 0.761 0.761 0.761 0.761 0.761 0.761 0.761 0.761 0.761 0.694 0.694 0.694 0.694 0.694 0.694 0.694 0.694 0.694 0.694 0.694 0.627 0.627 0.627 0.627 0.627 0.627 0.627 0.627 0.627 0.565 0.565 0.565 0.565 0.565 0.565 0.565 0.467 0.102 0.102 0.102 0.102 0.102 0.102 0.102 0.102 0.102 0.102 0.102 0.102 0.102 0.102 0.102 0.102 0.102 0.102 0.102 0.102 0.102 0.102 0.102 0.102 0.102 0.102 0.102 0.102 0.102 0.102 0.102 0.102 0.102"/></feComponentTransfer>
</filter>
<filter id="pe" filterUnits="userSpaceOnUse" x="127.8" y="3936.6" width="1003" height="1003" color-interpolation-filters="sRGB">
<feFlood x="130.8" y="3939.6" width="1" height="1" flood-color="#000"/>
<feComposite width="7" height="7"/>
<feTile result="t"/>
<feComposite in="SourceGraphic" in2="t" operator="in"/>
<feMorphology operator="dilate" radius="3"/>
<feComponentTransfer><feFuncA type="discrete" tableValues="0 1"/></feComponentTransfer>
</filter>
<filter id="ovb" x="-50%" y="-50%" width="200%" height="200%"><feGaussianBlur stdDeviation="3.5"/></filter>
</defs>
<!-- row a -->
<rect x="20.6" y="438" width="69.7" height="91.6" fill="#161616"/>
<text class="lb" transform="translate(55.9 501.5) scale(0.91 1)" text-anchor="middle">a</text>
<g><g clip-path="url(#cpa)"><g filter="url(#fa)">
<rect x="121.3" y="-57.2" width="1005.4" height="1005.4" fill="rgb(135,135,135)"/>
<rect x="120.8" y="-57.7" width="292.35" height="133.84" fill="rgb(150,150,150)"/>
<rect x="412.15" y="-57.7" width="53.84" height="133.84" fill="rgb(166,166,166)"/>
<rect x="464.99" y="-57.7" width="53.84" height="133.84" fill="rgb(150,150,150)"/>
<rect x="517.83" y="-57.7" width="53.84" height="133.84" fill="rgb(166,166,166)"/>
<rect x="570.66" y="-57.7" width="53.84" height="133.84" fill="rgb(89,89,89)"/>
<rect x="623.5" y="-57.7" width="53.84" height="133.84" fill="rgb(105,105,105)"/>
<rect x="676.34" y="-57.7" width="53.84" height="133.84" fill="rgb(135,135,135)"/>
<rect x="729.17" y="-57.7" width="53.84" height="133.84" fill="rgb(150,150,150)"/>
<rect x="782.01" y="-57.7" width="53.84" height="133.84" fill="rgb(105,105,105)"/>
<rect x="834.85" y="-57.7" width="292.35" height="133.84" fill="rgb(120,120,120)"/>
<rect x="120.8" y="75.14" width="239.51" height="53.84" fill="rgb(105,105,105)"/>
<rect x="359.31" y="75.14" width="53.84" height="53.84" fill="rgb(150,150,150)"/>
<rect x="412.15" y="75.14" width="53.84" height="53.84" fill="rgb(196,196,196)"/>
<rect x="464.99" y="75.14" width="53.84" height="53.84" fill="rgb(181,181,181)"/>
<rect x="517.83" y="75.14" width="53.84" height="53.84" fill="rgb(135,135,135)"/>
<rect x="570.66" y="75.14" width="106.67" height="53.84" fill="rgb(105,105,105)"/>
<rect x="676.34" y="75.14" width="53.84" height="53.84" fill="rgb(135,135,135)"/>
<rect x="729.17" y="75.14" width="53.84" height="53.84" fill="rgb(120,120,120)"/>
<rect x="782.01" y="75.14" width="53.84" height="53.84" fill="rgb(105,105,105)"/>
<rect x="834.85" y="75.14" width="292.35" height="53.84" fill="rgb(150,150,150)"/>
<rect x="120.8" y="127.98" width="186.68" height="53.84" fill="rgb(105,105,105)"/>
<rect x="306.48" y="127.98" width="53.84" height="53.84" fill="rgb(89,89,89)"/>
<rect x="359.31" y="127.98" width="53.84" height="53.84" fill="rgb(150,150,150)"/>
<rect x="412.15" y="127.98" width="53.84" height="53.84" fill="rgb(181,181,181)"/>
<rect x="464.99" y="127.98" width="53.84" height="53.84" fill="rgb(135,135,135)"/>
<rect x="517.83" y="127.98" width="53.84" height="53.84" fill="rgb(105,105,105)"/>
<rect x="570.66" y="127.98" width="53.84" height="53.84" fill="rgb(89,89,89)"/>
<rect x="623.5" y="127.98" width="53.84" height="53.84" fill="rgb(150,150,150)"/>
<rect x="676.34" y="127.98" width="53.84" height="53.84" fill="rgb(105,105,105)"/>
<rect x="729.17" y="127.98" width="53.84" height="53.84" fill="rgb(135,135,135)"/>
<rect x="782.01" y="127.98" width="53.84" height="53.84" fill="rgb(120,120,120)"/>
<rect x="834.85" y="127.98" width="53.84" height="53.84" fill="rgb(105,105,105)"/>
<rect x="887.69" y="127.98" width="53.84" height="53.84" fill="rgb(150,150,150)"/>
<rect x="940.53" y="127.98" width="186.67" height="53.84" fill="rgb(181,181,181)"/>
<rect x="120.8" y="180.81" width="186.68" height="53.84" fill="rgb(150,150,150)"/>
<rect x="306.48" y="180.81" width="53.84" height="53.84" fill="rgb(135,135,135)"/>
<rect x="359.31" y="180.81" width="53.84" height="53.84" fill="rgb(105,105,105)"/>
<rect x="412.15" y="180.81" width="53.84" height="53.84" fill="rgb(135,135,135)"/>
<rect x="464.99" y="180.81" width="53.84" height="53.84" fill="rgb(105,105,105)"/>
<rect x="517.83" y="180.81" width="106.67" height="53.84" fill="rgb(89,89,89)"/>
<rect x="623.5" y="180.81" width="106.67" height="53.84" fill="rgb(105,105,105)"/>
<rect x="729.17" y="180.81" width="53.84" height="53.84" fill="rgb(120,120,120)"/>
<rect x="782.01" y="180.81" width="53.84" height="53.84" fill="rgb(166,166,166)"/>
<rect x="834.85" y="180.81" width="106.68" height="53.84" fill="rgb(120,120,120)"/>
<rect x="940.53" y="180.81" width="186.67" height="53.84" fill="rgb(166,166,166)"/>
<rect x="120.8" y="233.65" width="133.84" height="53.84" fill="rgb(105,105,105)"/>
<rect x="253.64" y="233.65" width="53.84" height="53.84" fill="rgb(89,89,89)"/>
<rect x="306.48" y="233.65" width="53.84" height="53.84" fill="rgb(105,105,105)"/>
<rect x="359.31" y="233.65" width="53.84" height="53.84" fill="rgb(89,89,89)"/>
<rect x="412.15" y="233.65" width="53.84" height="53.84" fill="rgb(135,135,135)"/>
<rect x="464.99" y="233.65" width="106.68" height="53.84" fill="rgb(105,105,105)"/>
<rect x="570.66" y="233.65" width="53.84" height="53.84" fill="rgb(135,135,135)"/>
<rect x="623.5" y="233.65" width="53.84" height="53.84" fill="rgb(105,105,105)"/>
<rect x="676.34" y="233.65" width="53.84" height="53.84" fill="rgb(120,120,120)"/>
<rect x="729.17" y="233.65" width="53.84" height="53.84" fill="rgb(150,150,150)"/>
<rect x="782.01" y="233.65" width="53.84" height="53.84" fill="rgb(120,120,120)"/>
<rect x="834.85" y="233.65" width="292.35" height="53.84" fill="rgb(150,150,150)"/>
<rect x="120.8" y="286.49" width="133.84" height="53.84" fill="rgb(105,105,105)"/>
<rect x="253.64" y="286.49" width="53.84" height="53.84" fill="rgb(89,89,89)"/>
<rect x="306.48" y="286.49" width="106.67" height="53.84" fill="rgb(105,105,105)"/>
<rect x="412.15" y="286.49" width="53.84" height="53.84" fill="rgb(120,120,120)"/>
<rect x="464.99" y="286.49" width="106.68" height="53.84" fill="rgb(105,105,105)"/>
<rect x="570.66" y="286.49" width="53.84" height="53.84" fill="rgb(89,89,89)"/>
<rect x="623.5" y="286.49" width="53.84" height="53.84" fill="rgb(120,120,120)"/>
<rect x="676.34" y="286.49" width="53.84" height="53.84" fill="rgb(105,105,105)"/>
<rect x="729.17" y="286.49" width="53.84" height="53.84" fill="rgb(135,135,135)"/>
<rect x="782.01" y="286.49" width="106.67" height="53.84" fill="rgb(150,150,150)"/>
<rect x="887.69" y="286.49" width="53.84" height="53.84" fill="rgb(181,181,181)"/>
<rect x="940.53" y="286.49" width="53.84" height="53.84" fill="rgb(166,166,166)"/>
<rect x="993.36" y="286.49" width="133.84" height="53.84" fill="rgb(181,181,181)"/>
<rect x="120.8" y="339.32" width="133.84" height="53.84" fill="rgb(150,150,150)"/>
<rect x="253.64" y="339.32" width="53.84" height="53.84" fill="rgb(120,120,120)"/>
<rect x="306.48" y="339.32" width="53.84" height="53.84" fill="rgb(150,150,150)"/>
<rect x="359.31" y="339.32" width="106.68" height="53.84" fill="rgb(105,105,105)"/>
<rect x="464.99" y="339.32" width="53.84" height="53.84" fill="rgb(89,89,89)"/>
<rect x="517.83" y="339.32" width="53.84" height="53.84" fill="rgb(105,105,105)"/>
<rect x="570.66" y="339.32" width="53.84" height="53.84" fill="rgb(89,89,89)"/>
<rect x="623.5" y="339.32" width="106.67" height="53.84" fill="rgb(135,135,135)"/>
<rect x="729.17" y="339.32" width="53.84" height="53.84" fill="rgb(150,150,150)"/>
<rect x="782.01" y="339.32" width="53.84" height="53.84" fill="rgb(166,166,166)"/>
<rect x="834.85" y="339.32" width="53.84" height="53.84" fill="rgb(150,150,150)"/>
<rect x="887.69" y="339.32" width="53.84" height="53.84" fill="rgb(196,196,196)"/>
<rect x="940.53" y="339.32" width="53.84" height="53.84" fill="rgb(166,166,166)"/>
<rect x="993.36" y="339.32" width="133.84" height="53.84" fill="rgb(181,181,181)"/>
<rect x="120.8" y="392.16" width="133.84" height="53.84" fill="rgb(89,89,89)"/>
<rect x="253.64" y="392.16" width="53.84" height="53.84" fill="rgb(105,105,105)"/>
<rect x="306.48" y="392.16" width="53.84" height="53.84" fill="rgb(150,150,150)"/>
<rect x="359.31" y="392.16" width="53.84" height="53.84" fill="rgb(105,105,105)"/>
<rect x="412.15" y="392.16" width="53.84" height="53.84" fill="rgb(120,120,120)"/>
<rect x="464.99" y="392.16" width="106.68" height="53.84" fill="rgb(105,105,105)"/>
<rect x="570.66" y="392.16" width="53.84" height="53.84" fill="rgb(120,120,120)"/>
<rect x="623.5" y="392.16" width="53.84" height="53.84" fill="rgb(135,135,135)"/>
<rect x="676.34" y="392.16" width="106.68" height="53.84" fill="rgb(150,150,150)"/>
<rect x="782.01" y="392.16" width="53.84" height="53.84" fill="rgb(166,166,166)"/>
<rect x="834.85" y="392.16" width="53.84" height="53.84" fill="rgb(150,150,150)"/>
<rect x="887.69" y="392.16" width="106.67" height="53.84" fill="rgb(166,166,166)"/>
<rect x="993.36" y="392.16" width="133.84" height="53.84" fill="rgb(181,181,181)"/>
<rect x="120.8" y="445" width="133.84" height="53.84" fill="rgb(89,89,89)"/>
<rect x="253.64" y="445" width="53.84" height="53.84" fill="rgb(105,105,105)"/>
<rect x="306.48" y="445" width="53.84" height="53.84" fill="rgb(150,150,150)"/>
<rect x="359.31" y="445" width="53.84" height="53.84" fill="rgb(166,166,166)"/>
<rect x="412.15" y="445" width="106.68" height="53.84" fill="rgb(89,89,89)"/>
<rect x="517.83" y="445" width="106.67" height="53.84" fill="rgb(105,105,105)"/>
<rect x="623.5" y="445" width="53.84" height="53.84" fill="rgb(150,150,150)"/>
<rect x="676.34" y="445" width="53.84" height="53.84" fill="rgb(135,135,135)"/>
<rect x="729.17" y="445" width="53.84" height="53.84" fill="rgb(150,150,150)"/>
<rect x="782.01" y="445" width="53.84" height="53.84" fill="rgb(181,181,181)"/>
<rect x="834.85" y="445" width="53.84" height="53.84" fill="rgb(166,166,166)"/>
<rect x="887.69" y="445" width="53.84" height="53.84" fill="rgb(181,181,181)"/>
<rect x="940.53" y="445" width="53.84" height="53.84" fill="rgb(196,196,196)"/>
<rect x="993.36" y="445" width="133.84" height="53.84" fill="rgb(227,227,227)"/>
<rect x="120.8" y="497.84" width="186.68" height="53.84" fill="rgb(89,89,89)"/>
<rect x="306.48" y="497.84" width="53.84" height="53.84" fill="rgb(120,120,120)"/>
<rect x="359.31" y="497.84" width="53.84" height="53.84" fill="rgb(105,105,105)"/>
<rect x="412.15" y="497.84" width="53.84" height="53.84" fill="rgb(89,89,89)"/>
<rect x="464.99" y="497.84" width="53.84" height="53.84" fill="rgb(105,105,105)"/>
<rect x="517.83" y="497.84" width="106.67" height="53.84" fill="rgb(135,135,135)"/>
<rect x="623.5" y="497.84" width="53.84" height="53.84" fill="rgb(89,89,89)"/>
<rect x="676.34" y="497.84" width="53.84" height="53.84" fill="rgb(135,135,135)"/>
<rect x="729.17" y="497.84" width="53.84" height="53.84" fill="rgb(150,150,150)"/>
<rect x="782.01" y="497.84" width="53.84" height="53.84" fill="rgb(181,181,181)"/>
<rect x="834.85" y="497.84" width="53.84" height="53.84" fill="rgb(135,135,135)"/>
<rect x="887.69" y="497.84" width="53.84" height="53.84" fill="rgb(196,196,196)"/>
<rect x="940.53" y="497.84" width="53.84" height="53.84" fill="rgb(150,150,150)"/>
<rect x="993.36" y="497.84" width="133.84" height="53.84" fill="rgb(181,181,181)"/>
<rect x="120.8" y="550.67" width="133.84" height="53.84" fill="rgb(59,59,59)"/>
<rect x="253.64" y="550.67" width="53.84" height="53.84" fill="rgb(43,43,43)"/>
<rect x="306.48" y="550.67" width="159.51" height="53.84" fill="rgb(74,74,74)"/>
<rect x="464.99" y="550.67" width="53.84" height="53.84" fill="rgb(89,89,89)"/>
<rect x="517.83" y="550.67" width="53.84" height="53.84" fill="rgb(120,120,120)"/>
<rect x="570.66" y="550.67" width="53.84" height="53.84" fill="rgb(135,135,135)"/>
<rect x="623.5" y="550.67" width="53.84" height="53.84" fill="rgb(105,105,105)"/>
<rect x="676.34" y="550.67" width="53.84" height="53.84" fill="rgb(135,135,135)"/>
<rect x="729.17" y="550.67" width="53.84" height="53.84" fill="rgb(120,120,120)"/>
<rect x="782.01" y="550.67" width="53.84" height="53.84" fill="rgb(150,150,150)"/>
<rect x="834.85" y="550.67" width="53.84" height="53.84" fill="rgb(166,166,166)"/>
<rect x="887.69" y="550.67" width="53.84" height="53.84" fill="rgb(212,212,212)"/>
<rect x="940.53" y="550.67" width="53.84" height="53.84" fill="rgb(166,166,166)"/>
<rect x="993.36" y="550.67" width="133.84" height="53.84" fill="rgb(181,181,181)"/>
<rect x="120.8" y="603.51" width="133.84" height="53.84" fill="rgb(74,74,74)"/>
<rect x="253.64" y="603.51" width="53.84" height="53.84" fill="rgb(59,59,59)"/>
<rect x="306.48" y="603.51" width="212.35" height="53.84" fill="rgb(74,74,74)"/>
<rect x="517.83" y="603.51" width="53.84" height="53.84" fill="rgb(89,89,89)"/>
<rect x="570.66" y="603.51" width="106.67" height="53.84" fill="rgb(105,105,105)"/>
<rect x="676.34" y="603.51" width="53.84" height="53.84" fill="rgb(120,120,120)"/>
<rect x="729.17" y="603.51" width="53.84" height="53.84" fill="rgb(105,105,105)"/>
<rect x="782.01" y="603.51" width="53.84" height="53.84" fill="rgb(150,150,150)"/>
<rect x="834.85" y="603.51" width="53.84" height="53.84" fill="rgb(166,166,166)"/>
<rect x="887.69" y="603.51" width="53.84" height="53.84" fill="rgb(181,181,181)"/>
<rect x="940.53" y="603.51" width="186.67" height="53.84" fill="rgb(166,166,166)"/>
<rect x="120.8" y="656.35" width="186.68" height="53.84" fill="rgb(43,43,43)"/>
<rect x="306.48" y="656.35" width="53.84" height="53.84" fill="rgb(74,74,74)"/>
<rect x="359.31" y="656.35" width="53.84" height="53.84" fill="rgb(89,89,89)"/>
<rect x="412.15" y="656.35" width="53.84" height="53.84" fill="rgb(74,74,74)"/>
<rect x="464.99" y="656.35" width="53.84" height="53.84" fill="rgb(59,59,59)"/>
<rect x="517.83" y="656.35" width="53.84" height="53.84" fill="rgb(74,74,74)"/>
<rect x="570.66" y="656.35" width="106.67" height="53.84" fill="rgb(43,43,43)"/>
<rect x="676.34" y="656.35" width="53.84" height="53.84" fill="rgb(89,89,89)"/>
<rect x="729.17" y="656.35" width="53.84" height="53.84" fill="rgb(105,105,105)"/>
<rect x="782.01" y="656.35" width="53.84" height="53.84" fill="rgb(150,150,150)"/>
<rect x="834.85" y="656.35" width="53.84" height="53.84" fill="rgb(120,120,120)"/>
<rect x="887.69" y="656.35" width="53.84" height="53.84" fill="rgb(150,150,150)"/>
<rect x="940.53" y="656.35" width="186.67" height="53.84" fill="rgb(166,166,166)"/>
<rect x="120.8" y="709.19" width="239.51" height="53.84" fill="rgb(74,74,74)"/>
<rect x="359.31" y="709.19" width="53.84" height="53.84" fill="rgb(89,89,89)"/>
<rect x="412.15" y="709.19" width="53.84" height="53.84" fill="rgb(59,59,59)"/>
<rect x="464.99" y="709.19" width="53.84" height="53.84" fill="rgb(43,43,43)"/>
<rect x="517.83" y="709.19" width="53.84" height="53.84" fill="rgb(74,74,74)"/>
<rect x="570.66" y="709.19" width="53.84" height="53.84" fill="rgb(43,43,43)"/>
<rect x="623.5" y="709.19" width="53.84" height="53.84" fill="rgb(59,59,59)"/>
<rect x="676.34" y="709.19" width="53.84" height="53.84" fill="rgb(89,89,89)"/>
<rect x="729.17" y="709.19" width="53.84" height="53.84" fill="rgb(105,105,105)"/>
<rect x="782.01" y="709.19" width="53.84" height="53.84" fill="rgb(150,150,150)"/>
<rect x="834.85" y="709.19" width="53.84" height="53.84" fill="rgb(135,135,135)"/>
<rect x="887.69" y="709.19" width="239.51" height="53.84" fill="rgb(166,166,166)"/>
<rect x="120.8" y="762.03" width="292.35" height="53.84" fill="rgb(43,43,43)"/>
<rect x="412.15" y="762.03" width="106.68" height="53.84" fill="rgb(28,28,28)"/>
<rect x="517.83" y="762.03" width="53.84" height="53.84" fill="rgb(43,43,43)"/>
<rect x="570.66" y="762.03" width="53.84" height="53.84" fill="rgb(74,74,74)"/>
<rect x="623.5" y="762.03" width="53.84" height="53.84" fill="rgb(89,89,89)"/>
<rect x="676.34" y="762.03" width="53.84" height="53.84" fill="rgb(105,105,105)"/>
<rect x="729.17" y="762.03" width="53.84" height="53.84" fill="rgb(135,135,135)"/>
<rect x="782.01" y="762.03" width="53.84" height="53.84" fill="rgb(105,105,105)"/>
<rect x="834.85" y="762.03" width="292.35" height="53.84" fill="rgb(135,135,135)"/>
<rect x="120.8" y="814.86" width="345.19" height="133.84" fill="rgb(74,74,74)"/>
<rect x="464.99" y="814.86" width="106.68" height="133.84" fill="rgb(59,59,59)"/>
<rect x="570.66" y="814.86" width="106.67" height="133.84" fill="rgb(89,89,89)"/>
<rect x="676.34" y="814.86" width="53.84" height="133.84" fill="rgb(135,135,135)"/>
<rect x="729.17" y="814.86" width="398.03" height="133.84" fill="rgb(105,105,105)"/>
</g>
</g></g>
<rect x="1046.5" y="441.3" width="6.5" height="8.7" fill="#62b146"/>
<rect x="621.5" y="20.2" width="10" height="3.6" fill="#a5cc3c"/>
<rect x="622" y="867" width="9.7" height="7.6" fill="#e0b63a"/>
<rect x="202.3" y="897.8" width="12.3" height="89.2" fill="#8e2f2a"/>
<rect x="1046.3" y="897.8" width="11.7" height="89.2" fill="#1a1a1a"/>
<rect x="480.2" y="898" width="14.89" height="88.5" fill="#b5332a"/>
<rect x="494.49" y="898" width="14.89" height="88.5" fill="#d03a2e"/>
<rect x="508.78" y="898" width="14.89" height="88.5" fill="#dd6a2d"/>
<rect x="523.07" y="898" width="14.89" height="88.5" fill="#dd8430"/>
<rect x="537.36" y="898" width="14.89" height="88.5" fill="#df9a32"/>
<rect x="551.65" y="898" width="14.89" height="88.5" fill="#e0b338"/>
<rect x="565.94" y="898" width="14.89" height="88.5" fill="#e0d23d"/>
<rect x="580.23" y="898" width="14.89" height="88.5" fill="#dade45"/>
<rect x="594.52" y="898" width="14.89" height="88.5" fill="#b9d340"/>
<rect x="608.81" y="898" width="14.89" height="88.5" fill="#9dc83c"/>
<rect x="623.1" y="898" width="14.89" height="88.5" fill="#7ebb3e"/>
<rect x="637.39" y="898" width="14.89" height="88.5" fill="#62b146"/>
<rect x="651.68" y="898" width="14.89" height="88.5" fill="#5ab268"/>
<rect x="665.97" y="898" width="14.89" height="88.5" fill="#5fa98d"/>
<rect x="680.26" y="898" width="14.89" height="88.5" fill="#539fa8"/>
<rect x="694.55" y="898" width="14.89" height="88.5" fill="#5f8ec2"/>
<rect x="708.84" y="898" width="14.89" height="88.5" fill="#5874b1"/>
<rect x="723.13" y="898" width="14.89" height="88.5" fill="#4f5ba0"/>
<rect x="737.42" y="898" width="14.89" height="88.5" fill="#4a4390"/>
<rect x="751.71" y="898" width="14.29" height="88.5" fill="#422a77"/>
<text class="lg" x="248.66" y="973.3" font-size="71" stroke-width="1.56" textLength="185.68" lengthAdjust="spacingAndGlyphs">7.2 us</text>
<text class="lg" x="843.66" y="973.3" font-size="71" stroke-width="1.56" textLength="125.68" lengthAdjust="spacingAndGlyphs">9 us</text>
<path class="gr" d="M1319 60.7V898.4M1491.7 60.7V898.4M1664.4 60.7V898.4M1837.1 60.7V898.4M2009.8 60.7V898.4M2182.5 60.7V898.4M1319 688.98H2182.5M1319 479.55H2182.5M1319 270.12H2182.5M1319 60.7H2182.5"/>
<path d="M1274 898.4H2228" stroke="#666" stroke-width="3.2" fill="none"/>
<rect class="br" x="1360.73" y="896.31" width="43.33" height="2.09" fill="#d03a2e"/>
<rect class="br" x="1404.06" y="894.21" width="43.33" height="4.19" fill="#dd6a2d"/>
<rect class="br" x="1447.39" y="881.65" width="43.33" height="16.75" fill="#dd8430"/>
<rect class="br" x="1490.72" y="837.67" width="43.33" height="60.73" fill="#df9a32"/>
<rect class="br" x="1534.05" y="785.31" width="43.33" height="113.09" fill="#e0b338"/>
<rect class="br" x="1577.38" y="697.35" width="43.33" height="201.05" fill="#e0d23d"/>
<rect class="br" x="1620.71" y="563.32" width="43.33" height="335.08" fill="#dade45"/>
<rect class="br" x="1664.04" y="420.91" width="43.33" height="477.49" fill="#b9d340"/>
<rect class="br" x="1707.37" y="219.86" width="43.33" height="678.54" fill="#9dc83c"/>
<rect class="br" x="1750.7" y="131.9" width="43.33" height="766.5" fill="#7ebb3e"/>
<rect class="br" x="1794.03" y="278.5" width="43.33" height="619.9" fill="#62b146"/>
<rect class="br" x="1837.36" y="395.78" width="43.33" height="502.62" fill="#5ab268"/>
<rect class="br" x="1880.69" y="636.62" width="43.33" height="261.78" fill="#5fa98d"/>
<rect class="br" x="1924.02" y="789.5" width="43.33" height="108.9" fill="#539fa8"/>
<rect class="br" x="1967.35" y="869.08" width="43.33" height="29.32" fill="#5f8ec2"/>
<rect class="br" x="2010.68" y="890.02" width="43.33" height="8.38" fill="#5874b1"/>
<rect class="br" x="2054.01" y="894.21" width="43.33" height="4.19" fill="#4f5ba0"/>
<text class="ty" x="1246.5" y="907.7" text-anchor="middle">0</text>
<text class="ty" x="1246.5" y="698.27" text-anchor="middle">5</text>
<text class="ty" x="1246.5" y="488.85" text-anchor="middle">10</text>
<text class="ty" x="1246.5" y="279.43" text-anchor="middle">15</text>
<text class="ty" x="1246.5" y="70" text-anchor="middle">20</text>
<text class="tk" x="1318" y="933.6" text-anchor="middle">7.2</text>
<text class="tk" x="1490.7" y="933.6" text-anchor="middle">7.56</text>
<text class="tk" x="1663.4" y="933.6" text-anchor="middle">7.92</text>
<text class="tk" x="1836.1" y="933.6" text-anchor="middle">8.28</text>
<text class="tk" x="2008.8" y="933.6" text-anchor="middle">8.64</text>
<text class="tk" x="2181.5" y="933.6" text-anchor="middle">9</text>
<text class="ax" x="1750.25" y="965.9" text-anchor="middle">Lifetime [us]</text>
<text class="ay" transform="translate(1215 479.55) rotate(-90)" text-anchor="middle">Surface [%]</text>
<!-- row b -->
<rect x="23.6" y="1338" width="70.6" height="92.7" fill="#161616"/>
<text class="lb" transform="translate(59.8 1416.5) scale(0.96 1)" text-anchor="middle">b</text>
<g><g clip-path="url(#cpb)"><g filter="url(#fb)">
<rect x="122.3" y="977.5" width="1009.4" height="1009.4" fill="rgb(191,191,191)"/>
<rect x="121.8" y="977" width="346.44" height="134.09" fill="rgb(191,191,191)"/>
<rect x="467.24" y="977" width="54.09" height="134.09" fill="rgb(209,209,209)"/>
<rect x="520.33" y="977" width="54.09" height="134.09" fill="rgb(155,155,155)"/>
<rect x="573.41" y="977" width="54.09" height="134.09" fill="rgb(137,137,137)"/>
<rect x="626.5" y="977" width="54.09" height="134.09" fill="rgb(155,155,155)"/>
<rect x="679.59" y="977" width="54.09" height="134.09" fill="rgb(173,173,173)"/>
<rect x="732.67" y="977" width="399.53" height="134.09" fill="rgb(191,191,191)"/>
<rect x="121.8" y="1110.09" width="240.26" height="54.09" fill="rgb(137,137,137)"/>
<rect x="361.06" y="1110.09" width="54.09" height="54.09" fill="rgb(209,209,209)"/>
<rect x="414.15" y="1110.09" width="107.18" height="54.09" fill="rgb(227,227,227)"/>
<rect x="520.33" y="1110.09" width="54.09" height="54.09" fill="rgb(191,191,191)"/>
<rect x="573.41" y="1110.09" width="54.09" height="54.09" fill="rgb(155,155,155)"/>
<rect x="626.5" y="1110.09" width="107.17" height="54.09" fill="rgb(173,173,173)"/>
<rect x="732.67" y="1110.09" width="107.17" height="54.09" fill="rgb(191,191,191)"/>
<rect x="838.85" y="1110.09" width="54.09" height="54.09" fill="rgb(155,155,155)"/>
<rect x="891.94" y="1110.09" width="240.26" height="54.09" fill="rgb(137,137,137)"/>
<rect x="121.8" y="1163.17" width="187.18" height="54.09" fill="rgb(137,137,137)"/>
<rect x="307.98" y="1163.17" width="54.09" height="54.09" fill="rgb(155,155,155)"/>
<rect x="361.06" y="1163.17" width="54.09" height="54.09" fill="rgb(173,173,173)"/>
<rect x="414.15" y="1163.17" width="54.09" height="54.09" fill="rgb(209,209,209)"/>
<rect x="467.24" y="1163.17" width="54.09" height="54.09" fill="rgb(227,227,227)"/>
<rect x="520.33" y="1163.17" width="54.09" height="54.09" fill="rgb(173,173,173)"/>
<rect x="573.41" y="1163.17" width="54.09" height="54.09" fill="rgb(137,137,137)"/>
<rect x="626.5" y="1163.17" width="54.09" height="54.09" fill="rgb(173,173,173)"/>
<rect x="679.59" y="1163.17" width="54.09" height="54.09" fill="rgb(155,155,155)"/>
<rect x="732.67" y="1163.17" width="54.09" height="54.09" fill="rgb(137,137,137)"/>
<rect x="785.76" y="1163.17" width="107.17" height="54.09" fill="rgb(209,209,209)"/>
<rect x="891.94" y="1163.17" width="54.09" height="54.09" fill="rgb(155,155,155)"/>
<rect x="945.03" y="1163.17" width="187.17" height="54.09" fill="rgb(173,173,173)"/>
<rect x="121.8" y="1216.26" width="187.18" height="54.09" fill="rgb(209,209,209)"/>
<rect x="307.98" y="1216.26" width="54.09" height="54.09" fill="rgb(155,155,155)"/>
<rect x="361.06" y="1216.26" width="107.18" height="54.09" fill="rgb(227,227,227)"/>
<rect x="467.24" y="1216.26" width="54.09" height="54.09" fill="rgb(209,209,209)"/>
<rect x="520.33" y="1216.26" width="54.09" height="54.09" fill="rgb(191,191,191)"/>
<rect x="573.41" y="1216.26" width="54.09" height="54.09" fill="rgb(155,155,155)"/>
<rect x="626.5" y="1216.26" width="54.09" height="54.09" fill="rgb(191,191,191)"/>
<rect x="679.59" y="1216.26" width="54.09" height="54.09" fill="rgb(155,155,155)"/>
<rect x="732.67" y="1216.26" width="54.09" height="54.09" fill="rgb(137,137,137)"/>
<rect x="785.76" y="1216.26" width="54.09" height="54.09" fill="rgb(191,191,191)"/>
<rect x="838.85" y="1216.26" width="107.18" height="54.09" fill="rgb(173,173,173)"/>
<rect x="945.03" y="1216.26" width="187.17" height="54.09" fill="rgb(155,155,155)"/>
<rect x="121.8" y="1269.35" width="134.09" height="54.09" fill="rgb(155,155,155)"/>
<rect x="254.89" y="1269.35" width="54.09" height="54.09" fill="rgb(173,173,173)"/>
<rect x="307.98" y="1269.35" width="54.09" height="54.09" fill="rgb(209,209,209)"/>
<rect x="361.06" y="1269.35" width="107.18" height="54.09" fill="rgb(227,227,227)"/>
<rect x="467.24" y="1269.35" width="54.09" height="54.09" fill="rgb(173,173,173)"/>
<rect x="520.33" y="1269.35" width="54.09" height="54.09" fill="rgb(155,155,155)"/>
<rect x="573.41" y="1269.35" width="160.26" height="54.09" fill="rgb(191,191,191)"/>
<rect x="732.67" y="1269.35" width="54.09" height="54.09" fill="rgb(173,173,173)"/>
<rect x="785.76" y="1269.35" width="107.17" height="54.09" fill="rgb(191,191,191)"/>
<rect x="891.94" y="1269.35" width="54.09" height="54.09" fill="rgb(209,209,209)"/>
<rect x="945.03" y="1269.35" width="54.09" height="54.09" fill="rgb(155,155,155)"/>
<rect x="998.11" y="1269.35" width="134.09" height="54.09" fill="rgb(191,191,191)"/>
<rect x="121.8" y="1322.44" width="134.09" height="54.09" fill="rgb(191,191,191)"/>
<rect x="254.89" y="1322.44" width="107.17" height="54.09" fill="rgb(137,137,137)"/>
<rect x="361.06" y="1322.44" width="54.09" height="54.09" fill="rgb(227,227,227)"/>
<rect x="414.15" y="1322.44" width="107.18" height="54.09" fill="rgb(173,173,173)"/>
<rect x="520.33" y="1322.44" width="54.09" height="54.09" fill="rgb(191,191,191)"/>
<rect x="573.41" y="1322.44" width="54.09" height="54.09" fill="rgb(173,173,173)"/>
<rect x="626.5" y="1322.44" width="54.09" height="54.09" fill="rgb(191,191,191)"/>
<rect x="679.59" y="1322.44" width="54.09" height="54.09" fill="rgb(155,155,155)"/>
<rect x="732.67" y="1322.44" width="54.09" height="54.09" fill="rgb(137,137,137)"/>
<rect x="785.76" y="1322.44" width="54.09" height="54.09" fill="rgb(173,173,173)"/>
<rect x="838.85" y="1322.44" width="107.18" height="54.09" fill="rgb(191,191,191)"/>
<rect x="945.03" y="1322.44" width="54.09" height="54.09" fill="rgb(173,173,173)"/>
<rect x="998.11" y="1322.44" width="134.09" height="54.09" fill="rgb(191,191,191)"/>
<rect x="121.8" y="1375.53" width="134.09" height="54.09" fill="rgb(118,118,118)"/>
<rect x="254.89" y="1375.53" width="54.09" height="54.09" fill="rgb(209,209,209)"/>
<rect x="307.98" y="1375.53" width="54.09" height="54.09" fill="rgb(137,137,137)"/>
<rect x="361.06" y="1375.53" width="160.26" height="54.09" fill="rgb(209,209,209)"/>
<rect x="520.33" y="1375.53" width="54.09" height="54.09" fill="rgb(191,191,191)"/>
<rect x="573.41" y="1375.53" width="54.09" height="54.09" fill="rgb(155,155,155)"/>
<rect x="626.5" y="1375.53" width="54.09" height="54.09" fill="rgb(191,191,191)"/>
<rect x="679.59" y="1375.53" width="54.09" height="54.09" fill="rgb(155,155,155)"/>
<rect x="732.67" y="1375.53" width="54.09" height="54.09" fill="rgb(191,191,191)"/>
<rect x="785.76" y="1375.53" width="54.09" height="54.09" fill="rgb(155,155,155)"/>
<rect x="838.85" y="1375.53" width="54.09" height="54.09" fill="rgb(191,191,191)"/>
<rect x="891.94" y="1375.53" width="54.09" height="54.09" fill="rgb(209,209,209)"/>
<rect x="945.03" y="1375.53" width="187.17" height="54.09" fill="rgb(191,191,191)"/>
<rect x="121.8" y="1428.61" width="134.09" height="54.09" fill="rgb(118,118,118)"/>
<rect x="254.89" y="1428.61" width="54.09" height="54.09" fill="rgb(227,227,227)"/>
<rect x="307.98" y="1428.61" width="54.09" height="54.09" fill="rgb(137,137,137)"/>
<rect x="361.06" y="1428.61" width="54.09" height="54.09" fill="rgb(191,191,191)"/>
<rect x="414.15" y="1428.61" width="54.09" height="54.09" fill="rgb(209,209,209)"/>
<rect x="467.24" y="1428.61" width="107.18" height="54.09" fill="rgb(191,191,191)"/>
<rect x="573.41" y="1428.61" width="54.09" height="54.09" fill="rgb(209,209,209)"/>
<rect x="626.5" y="1428.61" width="54.09" height="54.09" fill="rgb(173,173,173)"/>
<rect x="679.59" y="1428.61" width="54.09" height="54.09" fill="rgb(191,191,191)"/>
<rect x="732.67" y="1428.61" width="54.09" height="54.09" fill="rgb(209,209,209)"/>
<rect x="785.76" y="1428.61" width="54.09" height="54.09" fill="rgb(173,173,173)"/>
<rect x="838.85" y="1428.61" width="54.09" height="54.09" fill="rgb(155,155,155)"/>
<rect x="891.94" y="1428.61" width="240.26" height="54.09" fill="rgb(191,191,191)"/>
<rect x="121.8" y="1481.7" width="187.18" height="54.09" fill="rgb(118,118,118)"/>
<rect x="307.98" y="1481.7" width="54.09" height="54.09" fill="rgb(191,191,191)"/>
<rect x="361.06" y="1481.7" width="107.18" height="54.09" fill="rgb(155,155,155)"/>
<rect x="467.24" y="1481.7" width="54.09" height="54.09" fill="rgb(227,227,227)"/>
<rect x="520.33" y="1481.7" width="54.09" height="54.09" fill="rgb(191,191,191)"/>
<rect x="573.41" y="1481.7" width="54.09" height="54.09" fill="rgb(137,137,137)"/>
<rect x="626.5" y="1481.7" width="54.09" height="54.09" fill="rgb(173,173,173)"/>
<rect x="679.59" y="1481.7" width="107.18" height="54.09" fill="rgb(191,191,191)"/>
<rect x="785.76" y="1481.7" width="54.09" height="54.09" fill="rgb(137,137,137)"/>
<rect x="838.85" y="1481.7" width="160.26" height="54.09" fill="rgb(191,191,191)"/>
<rect x="998.11" y="1481.7" width="134.09" height="54.09" fill="rgb(173,173,173)"/>
<rect x="121.8" y="1534.79" width="134.09" height="54.09" fill="rgb(100,100,100)"/>
<rect x="254.89" y="1534.79" width="54.09" height="54.09" fill="rgb(118,118,118)"/>
<rect x="307.98" y="1534.79" width="54.09" height="54.09" fill="rgb(209,209,209)"/>
<rect x="361.06" y="1534.79" width="54.09" height="54.09" fill="rgb(137,137,137)"/>
<rect x="414.15" y="1534.79" width="54.09" height="54.09" fill="rgb(155,155,155)"/>
<rect x="467.24" y="1534.79" width="54.09" height="54.09" fill="rgb(173,173,173)"/>
<rect x="520.33" y="1534.79" width="54.09" height="54.09" fill="rgb(209,209,209)"/>
<rect x="573.41" y="1534.79" width="54.09" height="54.09" fill="rgb(191,191,191)"/>
<rect x="626.5" y="1534.79" width="54.09" height="54.09" fill="rgb(155,155,155)"/>
<rect x="679.59" y="1534.79" width="107.18" height="54.09" fill="rgb(191,191,191)"/>
<rect x="785.76" y="1534.79" width="54.09" height="54.09" fill="rgb(137,137,137)"/>
<rect x="838.85" y="1534.79" width="54.09" height="54.09" fill="rgb(191,191,191)"/>
<rect x="891.94" y="1534.79" width="54.09" height="54.09" fill="rgb(173,173,173)"/>
<rect x="945.03" y="1534.79" width="54.09" height="54.09" fill="rgb(155,155,155)"/>
<rect x="998.11" y="1534.79" width="134.09" height="54.09" fill="rgb(173,173,173)"/>
<rect x="121.8" y="1587.88" width="134.09" height="54.09" fill="rgb(118,118,118)"/>
<rect x="254.89" y="1587.88" width="54.09" height="54.09" fill="rgb(227,227,227)"/>
<rect x="307.98" y="1587.88" width="54.09" height="54.09" fill="rgb(173,173,173)"/>
<rect x="361.06" y="1587.88" width="54.09" height="54.09" fill="rgb(209,209,209)"/>
<rect x="414.15" y="1587.88" width="54.09" height="54.09" fill="rgb(155,155,155)"/>
<rect x="467.24" y="1587.88" width="54.09" height="54.09" fill="rgb(137,137,137)"/>
<rect x="520.33" y="1587.88" width="54.09" height="54.09" fill="rgb(173,173,173)"/>
<rect x="573.41" y="1587.88" width="54.09" height="54.09" fill="rgb(209,209,209)"/>
<rect x="626.5" y="1587.88" width="54.09" height="54.09" fill="rgb(155,155,155)"/>
<rect x="679.59" y="1587.88" width="107.18" height="54.09" fill="rgb(191,191,191)"/>
<rect x="785.76" y="1587.88" width="54.09" height="54.09" fill="rgb(209,209,209)"/>
<rect x="838.85" y="1587.88" width="54.09" height="54.09" fill="rgb(191,191,191)"/>
<rect x="891.94" y="1587.88" width="54.09" height="54.09" fill="rgb(155,155,155)"/>
<rect x="945.03" y="1587.88" width="54.09" height="54.09" fill="rgb(173,173,173)"/>
<rect x="998.11" y="1587.88" width="134.09" height="54.09" fill="rgb(155,155,155)"/>
<rect x="121.8" y="1640.96" width="134.09" height="54.09" fill="rgb(100,100,100)"/>
<rect x="254.89" y="1640.96" width="54.09" height="54.09" fill="rgb(118,118,118)"/>
<rect x="307.98" y="1640.96" width="54.09" height="54.09" fill="rgb(155,155,155)"/>
<rect x="361.06" y="1640.96" width="54.09" height="54.09" fill="rgb(209,209,209)"/>
<rect x="414.15" y="1640.96" width="160.26" height="54.09" fill="rgb(191,191,191)"/>
<rect x="573.41" y="1640.96" width="54.09" height="54.09" fill="rgb(137,137,137)"/>
<rect x="626.5" y="1640.96" width="54.09" height="54.09" fill="rgb(155,155,155)"/>
<rect x="679.59" y="1640.96" width="54.09" height="54.09" fill="rgb(191,191,191)"/>
<rect x="732.67" y="1640.96" width="107.17" height="54.09" fill="rgb(173,173,173)"/>
<rect x="838.85" y="1640.96" width="107.18" height="54.09" fill="rgb(137,137,137)"/>
<rect x="945.03" y="1640.96" width="54.09" height="54.09" fill="rgb(118,118,118)"/>
<rect x="998.11" y="1640.96" width="134.09" height="54.09" fill="rgb(64,64,64)"/>
<rect x="121.8" y="1694.05" width="187.18" height="54.09" fill="rgb(137,137,137)"/>
<rect x="307.98" y="1694.05" width="54.09" height="54.09" fill="rgb(173,173,173)"/>
<rect x="361.06" y="1694.05" width="54.09" height="54.09" fill="rgb(191,191,191)"/>
<rect x="414.15" y="1694.05" width="107.18" height="54.09" fill="rgb(209,209,209)"/>
<rect x="520.33" y="1694.05" width="54.09" height="54.09" fill="rgb(191,191,191)"/>
<rect x="573.41" y="1694.05" width="54.09" height="54.09" fill="rgb(209,209,209)"/>
<rect x="626.5" y="1694.05" width="54.09" height="54.09" fill="rgb(173,173,173)"/>
<rect x="679.59" y="1694.05" width="54.09" height="54.09" fill="rgb(191,191,191)"/>
<rect x="732.67" y="1694.05" width="54.09" height="54.09" fill="rgb(137,137,137)"/>
<rect x="785.76" y="1694.05" width="54.09" height="54.09" fill="rgb(173,173,173)"/>
<rect x="838.85" y="1694.05" width="54.09" height="54.09" fill="rgb(155,155,155)"/>
<rect x="891.94" y="1694.05" width="240.26" height="54.09" fill="rgb(100,100,100)"/>
<rect x="121.8" y="1747.14" width="240.26" height="54.09" fill="rgb(137,137,137)"/>
<rect x="361.06" y="1747.14" width="107.18" height="54.09" fill="rgb(209,209,209)"/>
<rect x="467.24" y="1747.14" width="107.18" height="54.09" fill="rgb(173,173,173)"/>
<rect x="573.41" y="1747.14" width="107.17" height="54.09" fill="rgb(191,191,191)"/>
<rect x="679.59" y="1747.14" width="54.09" height="54.09" fill="rgb(155,155,155)"/>
<rect x="732.67" y="1747.14" width="54.09" height="54.09" fill="rgb(137,137,137)"/>
<rect x="785.76" y="1747.14" width="54.09" height="54.09" fill="rgb(118,118,118)"/>
<rect x="838.85" y="1747.14" width="54.09" height="54.09" fill="rgb(82,82,82)"/>
<rect x="891.94" y="1747.14" width="54.09" height="54.09" fill="rgb(46,46,46)"/>
<rect x="945.03" y="1747.14" width="187.17" height="54.09" fill="rgb(28,28,28)"/>
<rect x="121.8" y="1800.22" width="293.35" height="54.09" fill="rgb(191,191,191)"/>
<rect x="414.15" y="1800.22" width="107.18" height="54.09" fill="rgb(155,155,155)"/>
<rect x="520.33" y="1800.22" width="54.09" height="54.09" fill="rgb(191,191,191)"/>
<rect x="573.41" y="1800.22" width="54.09" height="54.09" fill="rgb(173,173,173)"/>
<rect x="626.5" y="1800.22" width="54.09" height="54.09" fill="rgb(155,155,155)"/>
<rect x="679.59" y="1800.22" width="107.18" height="54.09" fill="rgb(137,137,137)"/>
<rect x="785.76" y="1800.22" width="54.09" height="54.09" fill="rgb(82,82,82)"/>
<rect x="838.85" y="1800.22" width="293.35" height="54.09" fill="rgb(46,46,46)"/>
<rect x="121.8" y="1853.31" width="399.53" height="134.09" fill="rgb(155,155,155)"/>
<rect x="520.33" y="1853.31" width="54.09" height="134.09" fill="rgb(191,191,191)"/>
<rect x="573.41" y="1853.31" width="107.17" height="134.09" fill="rgb(137,137,137)"/>
<rect x="679.59" y="1853.31" width="452.61" height="134.09" fill="rgb(118,118,118)"/>
</g>
<g filter="url(#ovb)">
<ellipse cx="236" cy="1338" rx="11" ry="13" fill="#4a4390"/>
<ellipse cx="222" cy="1443" rx="21" ry="12" fill="#4a4390"/>
<ellipse cx="288" cy="1465" rx="11" ry="18" fill="#4f5ba0"/>
<ellipse cx="227" cy="1498" rx="11" ry="11" fill="#4f5ba0"/>
<ellipse cx="230" cy="1614" rx="12" ry="15" fill="#4a4390"/>
<ellipse cx="393" cy="1367" rx="10" ry="13" fill="#4f5ba0"/>
<ellipse cx="285" cy="1397" rx="6" ry="6" fill="#4f5ba0"/>
<ellipse cx="306" cy="1631" rx="6" ry="6" fill="#4f5ba0"/>
<ellipse cx="476" cy="1292" rx="8" ry="7" fill="#4f5ba0"/>
<ellipse cx="212" cy="1397" rx="4" ry="4" fill="#4f5ba0"/>
<ellipse cx="234" cy="1336" rx="6" ry="8" fill="#1a1a1a"/>
<ellipse cx="218" cy="1443" rx="15" ry="7" fill="#1a1a1a"/>
<ellipse cx="285" cy="1463" rx="4" ry="7" fill="#1a1a1a"/>
<ellipse cx="228" cy="1609" rx="9" ry="9" fill="#1a1a1a"/>
<ellipse cx="210" cy="1540" rx="7" ry="52" fill="#df9a32"/>
<ellipse cx="225" cy="1419.5" rx="21" ry="3" fill="#dd8430"/>
<ellipse cx="287" cy="1544" rx="17" ry="8" fill="#dd8430"/>
<ellipse cx="260" cy="1652" rx="20" ry="3" fill="#df9a32"/>
<ellipse cx="220" cy="1377" rx="8" ry="6" fill="#d03a2e"/>
<ellipse cx="217" cy="1528" rx="13" ry="10" fill="#d03a2e"/>
<ellipse cx="221" cy="1585" rx="5" ry="8" fill="#d03a2e"/>
<ellipse cx="214" cy="1528" rx="7" ry="6" fill="#b5332a"/>
</g>
</g></g>
<rect x="1051" y="1481.6" width="8.2" height="5" fill="#62b146"/>
<rect x="623" y="1906.8" width="7" height="5" fill="#7ebb3e"/>
<rect x="201.6" y="1919.5" width="33" height="33" fill="#8e2f2a"/>
<rect x="1025" y="1919.5" width="33" height="33" fill="#1a1a1a"/>
<rect x="304.3" y="1919" width="33.16" height="33.5" fill="#b5332a"/>
<rect x="336.86" y="1919" width="33.16" height="33.5" fill="#d03a2e"/>
<rect x="369.42" y="1919" width="33.16" height="33.5" fill="#dd6a2d"/>
<rect x="401.98" y="1919" width="33.16" height="33.5" fill="#dd8430"/>
<rect x="434.54" y="1919" width="33.16" height="33.5" fill="#df9a32"/>
<rect x="467.1" y="1919" width="33.16" height="33.5" fill="#e0b338"/>
<rect x="499.66" y="1919" width="33.16" height="33.5" fill="#e0d23d"/>
<rect x="532.22" y="1919" width="33.16" height="33.5" fill="#dade45"/>
<rect x="564.78" y="1919" width="33.16" height="33.5" fill="#b9d340"/>
<rect x="597.34" y="1919" width="33.16" height="33.5" fill="#9dc83c"/>
<rect x="629.9" y="1919" width="33.16" height="33.5" fill="#7ebb3e"/>
<rect x="662.46" y="1919" width="33.16" height="33.5" fill="#62b146"/>
<rect x="695.02" y="1919" width="33.16" height="33.5" fill="#5ab268"/>
<rect x="727.58" y="1919" width="33.16" height="33.5" fill="#5fa98d"/>
<rect x="760.14" y="1919" width="33.16" height="33.5" fill="#539fa8"/>
<rect x="792.7" y="1919" width="33.16" height="33.5" fill="#5f8ec2"/>
<rect x="825.26" y="1919" width="33.16" height="33.5" fill="#5874b1"/>
<rect x="857.82" y="1919" width="33.16" height="33.5" fill="#4f5ba0"/>
<rect x="890.38" y="1919" width="33.16" height="33.5" fill="#4a4390"/>
<rect x="922.94" y="1919" width="32.56" height="33.5" fill="#422a77"/>
<text class="lg" x="243.5" y="1947.3" font-size="25" stroke-width="0.55" textLength="46.5" lengthAdjust="spacingAndGlyphs">5 us</text>
<text class="lg" x="963.5" y="1947.3" font-size="25" stroke-width="0.55" textLength="47" lengthAdjust="spacingAndGlyphs">7 us</text>
<path class="gr" d="M1319 1061V1899.9M1491.7 1061V1899.9M1664.4 1061V1899.9M1837.1 1061V1899.9M2009.8 1061V1899.9M2182.5 1061V1899.9M1319 1732.12H2182.5M1319 1564.34H2182.5M1319 1396.56H2182.5M1319 1228.78H2182.5M1319 1061H2182.5"/>
<path d="M1274 1899.9H2228" stroke="#666" stroke-width="3.2" fill="none"/>
<rect class="br" x="1404.06" y="1894.87" width="43.33" height="5.03" fill="#dd6a2d"/>
<rect class="br" x="1447.39" y="1891.51" width="43.33" height="8.39" fill="#dd8430"/>
<rect class="br" x="1490.72" y="1883.12" width="43.33" height="16.78" fill="#df9a32"/>
<rect class="br" x="1534.05" y="1874.73" width="43.33" height="25.17" fill="#e0b338"/>
<rect class="br" x="1577.38" y="1849.57" width="43.33" height="50.33" fill="#e0d23d"/>
<rect class="br" x="1620.71" y="1819.37" width="43.33" height="80.53" fill="#dade45"/>
<rect class="br" x="1664.04" y="1723.73" width="43.33" height="176.17" fill="#b9d340"/>
<rect class="br" x="1707.37" y="1497.23" width="43.33" height="402.67" fill="#9dc83c"/>
<rect class="br" x="1750.7" y="1144.89" width="43.33" height="755.01" fill="#7ebb3e"/>
<rect class="br" x="1794.03" y="1059.32" width="43.33" height="840.58" fill="#62b146"/>
<rect class="br" x="1837.36" y="1321.06" width="43.33" height="578.84" fill="#5ab268"/>
<rect class="br" x="1880.69" y="1651.59" width="43.33" height="248.31" fill="#5fa98d"/>
<rect class="br" x="1924.02" y="1784.13" width="43.33" height="115.77" fill="#539fa8"/>
<rect class="br" x="1967.35" y="1864.67" width="43.33" height="35.23" fill="#5f8ec2"/>
<rect class="br" x="2010.68" y="1888.16" width="43.33" height="11.74" fill="#5874b1"/>
<rect class="br" x="2054.01" y="1894.87" width="43.33" height="5.03" fill="#4f5ba0"/>
<rect class="br" x="2097.34" y="1896.54" width="43.33" height="3.36" fill="#4a4390"/>
<rect class="br" x="2140.67" y="1896.54" width="43.33" height="3.36" fill="#422a77"/>
<rect class="br" x="2184" y="1894.87" width="44" height="5.03" fill="#1a1a1a"/>
<text class="ty" x="1246.5" y="1909.2" text-anchor="middle">0</text>
<text class="ty" x="1246.5" y="1741.42" text-anchor="middle">5</text>
<text class="ty" x="1246.5" y="1573.64" text-anchor="middle">10</text>
<text class="ty" x="1246.5" y="1405.86" text-anchor="middle">15</text>
<text class="ty" x="1246.5" y="1238.08" text-anchor="middle">20</text>
<text class="ty" x="1246.5" y="1070.3" text-anchor="middle">25</text>
<text class="tk" x="1318" y="1935.1" text-anchor="middle">5</text>
<text class="tk" x="1490.7" y="1935.1" text-anchor="middle">5.4</text>
<text class="tk" x="1663.4" y="1935.1" text-anchor="middle">5.8</text>
<text class="tk" x="1836.1" y="1935.1" text-anchor="middle">6.2</text>
<text class="tk" x="2008.8" y="1935.1" text-anchor="middle">6.6</text>
<text class="tk" x="2181.5" y="1935.1" text-anchor="middle">7</text>
<text class="ax" x="1750.25" y="1967.4" text-anchor="middle">Lifetime [us]</text>
<text class="ay" transform="translate(1215 1480.45) rotate(-90)" text-anchor="middle">Surface [%]</text>
<!-- row c -->
<rect x="21" y="2359.6" width="71" height="91.1" fill="#161616"/>
<text class="lb" transform="translate(54.7 2428.4) scale(1 1)" text-anchor="middle">c</text>
<g filter="url(#pc)"><g clip-path="url(#cpc)"><g filter="url(#fc)">
<rect x="122.9" y="1945.7" width="1006" height="1006" fill="rgb(174,174,174)"/>
<rect x="122.4" y="1945.2" width="345.38" height="133.88" fill="rgb(94,94,94)"/>
<rect x="466.77" y="1945.2" width="53.88" height="133.88" fill="rgb(81,81,81)"/>
<rect x="519.65" y="1945.2" width="106.75" height="133.88" fill="rgb(55,55,55)"/>
<rect x="625.4" y="1945.2" width="53.88" height="133.88" fill="rgb(41,41,41)"/>
<rect x="678.27" y="1945.2" width="451.13" height="133.88" fill="rgb(28,28,28)"/>
<rect x="122.4" y="2078.07" width="292.5" height="53.88" fill="rgb(108,108,108)"/>
<rect x="413.9" y="2078.07" width="106.75" height="53.88" fill="rgb(94,94,94)"/>
<rect x="519.65" y="2078.07" width="106.75" height="53.88" fill="rgb(81,81,81)"/>
<rect x="625.4" y="2078.07" width="53.88" height="53.88" fill="rgb(68,68,68)"/>
<rect x="678.27" y="2078.07" width="106.75" height="53.88" fill="rgb(55,55,55)"/>
<rect x="784.02" y="2078.07" width="106.75" height="53.88" fill="rgb(41,41,41)"/>
<rect x="889.77" y="2078.07" width="239.63" height="53.88" fill="rgb(55,55,55)"/>
<rect x="122.4" y="2130.95" width="239.62" height="53.88" fill="rgb(134,134,134)"/>
<rect x="361.02" y="2130.95" width="106.75" height="53.88" fill="rgb(121,121,121)"/>
<rect x="466.77" y="2130.95" width="159.62" height="53.88" fill="rgb(108,108,108)"/>
<rect x="625.4" y="2130.95" width="159.62" height="53.88" fill="rgb(94,94,94)"/>
<rect x="784.02" y="2130.95" width="106.75" height="53.88" fill="rgb(81,81,81)"/>
<rect x="889.77" y="2130.95" width="239.63" height="53.88" fill="rgb(68,68,68)"/>
<rect x="122.4" y="2183.82" width="345.38" height="53.88" fill="rgb(147,147,147)"/>
<rect x="466.77" y="2183.82" width="159.62" height="53.88" fill="rgb(134,134,134)"/>
<rect x="625.4" y="2183.82" width="265.38" height="53.88" fill="rgb(121,121,121)"/>
<rect x="889.77" y="2183.82" width="239.63" height="53.88" fill="rgb(108,108,108)"/>
<rect x="122.4" y="2236.7" width="133.88" height="53.88" fill="rgb(161,161,161)"/>
<rect x="255.27" y="2236.7" width="159.62" height="53.88" fill="rgb(174,174,174)"/>
<rect x="413.9" y="2236.7" width="53.88" height="53.88" fill="rgb(161,161,161)"/>
<rect x="466.77" y="2236.7" width="159.62" height="53.88" fill="rgb(147,147,147)"/>
<rect x="625.4" y="2236.7" width="106.75" height="53.88" fill="rgb(134,134,134)"/>
<rect x="731.15" y="2236.7" width="398.25" height="53.88" fill="rgb(121,121,121)"/>
<rect x="122.4" y="2289.57" width="133.88" height="53.88" fill="rgb(174,174,174)"/>
<rect x="255.27" y="2289.57" width="159.62" height="53.88" fill="rgb(187,187,187)"/>
<rect x="413.9" y="2289.57" width="53.88" height="53.88" fill="rgb(174,174,174)"/>
<rect x="466.77" y="2289.57" width="318.25" height="53.88" fill="rgb(147,147,147)"/>
<rect x="784.02" y="2289.57" width="53.88" height="53.88" fill="rgb(134,134,134)"/>
<rect x="836.9" y="2289.57" width="292.5" height="53.88" fill="rgb(147,147,147)"/>
<rect x="122.4" y="2342.45" width="133.88" height="53.88" fill="rgb(187,187,187)"/>
<rect x="255.27" y="2342.45" width="53.88" height="53.88" fill="rgb(200,200,200)"/>
<rect x="308.15" y="2342.45" width="53.88" height="53.88" fill="rgb(214,214,214)"/>
<rect x="361.02" y="2342.45" width="106.75" height="53.88" fill="rgb(187,187,187)"/>
<rect x="466.77" y="2342.45" width="53.88" height="53.88" fill="rgb(161,161,161)"/>
<rect x="519.65" y="2342.45" width="106.75" height="53.88" fill="rgb(147,147,147)"/>
<rect x="625.4" y="2342.45" width="53.88" height="53.88" fill="rgb(161,161,161)"/>
<rect x="678.27" y="2342.45" width="53.88" height="53.88" fill="rgb(174,174,174)"/>
<rect x="731.15" y="2342.45" width="53.88" height="53.88" fill="rgb(161,161,161)"/>
<rect x="784.02" y="2342.45" width="159.62" height="53.88" fill="rgb(174,174,174)"/>
<rect x="942.65" y="2342.45" width="186.75" height="53.88" fill="rgb(187,187,187)"/>
<rect x="122.4" y="2395.32" width="133.88" height="53.88" fill="rgb(200,200,200)"/>
<rect x="255.27" y="2395.32" width="106.75" height="53.88" fill="rgb(214,214,214)"/>
<rect x="361.02" y="2395.32" width="53.88" height="53.88" fill="rgb(187,187,187)"/>
<rect x="413.9" y="2395.32" width="159.62" height="53.88" fill="rgb(174,174,174)"/>
<rect x="572.52" y="2395.32" width="53.88" height="53.88" fill="rgb(161,161,161)"/>
<rect x="625.4" y="2395.32" width="53.88" height="53.88" fill="rgb(174,174,174)"/>
<rect x="678.27" y="2395.32" width="53.88" height="53.88" fill="rgb(187,187,187)"/>
<rect x="731.15" y="2395.32" width="53.88" height="53.88" fill="rgb(200,200,200)"/>
<rect x="784.02" y="2395.32" width="159.62" height="53.88" fill="rgb(187,187,187)"/>
<rect x="942.65" y="2395.32" width="186.75" height="53.88" fill="rgb(200,200,200)"/>
<rect x="122.4" y="2448.2" width="239.62" height="53.88" fill="rgb(174,174,174)"/>
<rect x="361.02" y="2448.2" width="106.75" height="53.88" fill="rgb(187,187,187)"/>
<rect x="466.77" y="2448.2" width="53.88" height="53.88" fill="rgb(174,174,174)"/>
<rect x="519.65" y="2448.2" width="106.75" height="53.88" fill="rgb(187,187,187)"/>
<rect x="625.4" y="2448.2" width="106.75" height="53.88" fill="rgb(214,214,214)"/>
<rect x="731.15" y="2448.2" width="212.5" height="53.88" fill="rgb(200,200,200)"/>
<rect x="942.65" y="2448.2" width="53.88" height="53.88" fill="rgb(227,227,227)"/>
<rect x="995.52" y="2448.2" width="133.88" height="53.88" fill="rgb(214,214,214)"/>
<rect x="122.4" y="2501.07" width="292.5" height="53.88" fill="rgb(174,174,174)"/>
<rect x="413.9" y="2501.07" width="265.38" height="53.88" fill="rgb(187,187,187)"/>
<rect x="678.27" y="2501.07" width="106.75" height="53.88" fill="rgb(200,200,200)"/>
<rect x="784.02" y="2501.07" width="106.75" height="53.88" fill="rgb(214,214,214)"/>
<rect x="889.77" y="2501.07" width="53.88" height="53.88" fill="rgb(227,227,227)"/>
<rect x="942.65" y="2501.07" width="186.75" height="53.88" fill="rgb(214,214,214)"/>
<rect x="122.4" y="2553.95" width="292.5" height="53.88" fill="rgb(174,174,174)"/>
<rect x="413.9" y="2553.95" width="318.25" height="53.88" fill="rgb(187,187,187)"/>
<rect x="731.15" y="2553.95" width="53.88" height="53.88" fill="rgb(200,200,200)"/>
<rect x="784.02" y="2553.95" width="106.75" height="53.88" fill="rgb(214,214,214)"/>
<rect x="889.77" y="2553.95" width="53.88" height="53.88" fill="rgb(227,227,227)"/>
<rect x="942.65" y="2553.95" width="186.75" height="53.88" fill="rgb(214,214,214)"/>
<rect x="122.4" y="2606.82" width="186.75" height="53.88" fill="rgb(174,174,174)"/>
<rect x="308.15" y="2606.82" width="53.88" height="53.88" fill="rgb(161,161,161)"/>
<rect x="361.02" y="2606.82" width="265.38" height="53.88" fill="rgb(174,174,174)"/>
<rect x="625.4" y="2606.82" width="106.75" height="53.88" fill="rgb(187,187,187)"/>
<rect x="731.15" y="2606.82" width="106.75" height="53.88" fill="rgb(200,200,200)"/>
<rect x="836.9" y="2606.82" width="292.5" height="53.88" fill="rgb(214,214,214)"/>
<rect x="122.4" y="2659.7" width="186.75" height="53.88" fill="rgb(161,161,161)"/>
<rect x="308.15" y="2659.7" width="424" height="53.88" fill="rgb(174,174,174)"/>
<rect x="731.15" y="2659.7" width="53.88" height="53.88" fill="rgb(187,187,187)"/>
<rect x="784.02" y="2659.7" width="106.75" height="53.88" fill="rgb(200,200,200)"/>
<rect x="889.77" y="2659.7" width="239.63" height="53.88" fill="rgb(214,214,214)"/>
<rect x="122.4" y="2712.57" width="239.62" height="53.88" fill="rgb(174,174,174)"/>
<rect x="361.02" y="2712.57" width="106.75" height="53.88" fill="rgb(161,161,161)"/>
<rect x="466.77" y="2712.57" width="106.75" height="53.88" fill="rgb(147,147,147)"/>
<rect x="572.52" y="2712.57" width="53.88" height="53.88" fill="rgb(161,161,161)"/>
<rect x="625.4" y="2712.57" width="53.88" height="53.88" fill="rgb(174,174,174)"/>
<rect x="678.27" y="2712.57" width="212.5" height="53.88" fill="rgb(187,187,187)"/>
<rect x="889.77" y="2712.57" width="239.63" height="53.88" fill="rgb(200,200,200)"/>
<rect x="122.4" y="2765.45" width="345.38" height="53.88" fill="rgb(161,161,161)"/>
<rect x="466.77" y="2765.45" width="53.88" height="53.88" fill="rgb(147,147,147)"/>
<rect x="519.65" y="2765.45" width="53.88" height="53.88" fill="rgb(134,134,134)"/>
<rect x="572.52" y="2765.45" width="106.75" height="53.88" fill="rgb(147,147,147)"/>
<rect x="678.27" y="2765.45" width="53.88" height="53.88" fill="rgb(161,161,161)"/>
<rect x="731.15" y="2765.45" width="106.75" height="53.88" fill="rgb(174,174,174)"/>
<rect x="836.9" y="2765.45" width="292.5" height="53.88" fill="rgb(161,161,161)"/>
<rect x="122.4" y="2818.32" width="398.25" height="133.88" fill="rgb(147,147,147)"/>
<rect x="519.65" y="2818.32" width="53.88" height="133.88" fill="rgb(134,134,134)"/>
<rect x="572.52" y="2818.32" width="53.88" height="133.88" fill="rgb(121,121,121)"/>
<rect x="625.4" y="2818.32" width="106.75" height="133.88" fill="rgb(147,147,147)"/>
<rect x="731.15" y="2818.32" width="398.25" height="133.88" fill="rgb(161,161,161)"/>
</g>
</g></g>
<rect x="201.3" y="2445.6" width="5" height="7.7" fill="#4f9aa8"/>
<rect x="1046" y="2445.5" width="13" height="7.6" fill="#5f7fc0"/>
<rect x="619.5" y="2020.5" width="12.5" height="5" fill="#d9602c"/>
<rect x="619.5" y="2872" width="14" height="9" fill="#8dc03c"/>
<rect x="201.8" y="2891" width="29" height="51" fill="#8e2f2a"/>
<rect x="1029.4" y="2891" width="28" height="51" fill="#1a1a1a"/>
<rect x="336.3" y="2891" width="29.75" height="51" fill="#b5332a"/>
<rect x="365.45" y="2891" width="29.75" height="51" fill="#d03a2e"/>
<rect x="394.61" y="2891" width="29.75" height="51" fill="#dd6a2d"/>
<rect x="423.76" y="2891" width="29.75" height="51" fill="#dd8430"/>
<rect x="452.92" y="2891" width="29.75" height="51" fill="#df9a32"/>
<rect x="482.07" y="2891" width="29.75" height="51" fill="#e0b338"/>
<rect x="511.23" y="2891" width="29.75" height="51" fill="#e0d23d"/>
<rect x="540.38" y="2891" width="29.75" height="51" fill="#dade45"/>
<rect x="569.54" y="2891" width="29.75" height="51" fill="#b9d340"/>
<rect x="598.69" y="2891" width="29.75" height="51" fill="#9dc83c"/>
<rect x="627.85" y="2891" width="29.75" height="51" fill="#7ebb3e"/>
<rect x="657" y="2891" width="29.75" height="51" fill="#62b146"/>
<rect x="686.16" y="2891" width="29.75" height="51" fill="#5ab268"/>
<rect x="715.31" y="2891" width="29.75" height="51" fill="#5fa98d"/>
<rect x="744.47" y="2891" width="29.75" height="51" fill="#539fa8"/>
<rect x="773.62" y="2891" width="29.75" height="51" fill="#5f8ec2"/>
<rect x="802.78" y="2891" width="29.75" height="51" fill="#5874b1"/>
<rect x="831.93" y="2891" width="29.75" height="51" fill="#4f5ba0"/>
<rect x="861.09" y="2891" width="29.75" height="51" fill="#4a4390"/>
<rect x="890.24" y="2891" width="29.15" height="51" fill="#422a77"/>
<text class="lg" x="242.02" y="2933" font-size="37" stroke-width="0.81" textLength="69.96" lengthAdjust="spacingAndGlyphs">8 us</text>
<text class="lg" x="935.02" y="2933" font-size="37" stroke-width="0.81" textLength="71.96" lengthAdjust="spacingAndGlyphs">9 us</text>
<path class="gr" d="M1319 2059.2V2899.9M1491.7 2059.2V2899.9M1664.4 2059.2V2899.9M1837.1 2059.2V2899.9M2009.8 2059.2V2899.9M2182.5 2059.2V2899.9M1319 2731.76H2182.5M1319 2563.62H2182.5M1319 2395.48H2182.5M1319 2227.34H2182.5M1319 2059.2H2182.5"/>
<path d="M1274 2899.9H2228" stroke="#666" stroke-width="3.2" fill="none"/>
<rect class="br" x="1317.4" y="2893.17" width="43.33" height="6.73" fill="#b5332a"/>
<rect class="br" x="1360.73" y="2886.45" width="43.33" height="13.45" fill="#d03a2e"/>
<rect class="br" x="1404.06" y="2874.68" width="43.33" height="25.22" fill="#dd6a2d"/>
<rect class="br" x="1447.39" y="2861.23" width="43.33" height="38.67" fill="#dd8430"/>
<rect class="br" x="1490.72" y="2852.82" width="43.33" height="47.08" fill="#df9a32"/>
<rect class="br" x="1534.05" y="2837.69" width="43.33" height="62.21" fill="#e0b338"/>
<rect class="br" x="1577.38" y="2819.19" width="43.33" height="80.71" fill="#e0d23d"/>
<rect class="br" x="1620.71" y="2810.79" width="43.33" height="89.11" fill="#dade45"/>
<rect class="br" x="1664.04" y="2762.03" width="43.33" height="137.87" fill="#b9d340"/>
<rect class="br" x="1707.37" y="2740.17" width="43.33" height="159.73" fill="#9dc83c"/>
<rect class="br" x="1750.7" y="2654.42" width="43.33" height="245.48" fill="#7ebb3e"/>
<rect class="br" x="1794.03" y="2440.88" width="43.33" height="459.02" fill="#62b146"/>
<rect class="br" x="1837.36" y="2133.18" width="43.33" height="766.72" fill="#5ab268"/>
<rect class="br" x="1880.69" y="2264.33" width="43.33" height="635.57" fill="#5fa98d"/>
<rect class="br" x="1924.02" y="2545.12" width="43.33" height="354.78" fill="#539fa8"/>
<rect class="br" x="1967.35" y="2704.86" width="43.33" height="195.04" fill="#5f8ec2"/>
<rect class="br" x="2010.68" y="2869.63" width="43.33" height="30.27" fill="#5874b1"/>
<rect class="br" x="2054.01" y="2896.54" width="43.33" height="3.36" fill="#4f5ba0"/>
<text class="ty" x="1246.5" y="2909.2" text-anchor="middle">0</text>
<text class="ty" x="1246.5" y="2741.06" text-anchor="middle">5</text>
<text class="ty" x="1246.5" y="2572.92" text-anchor="middle">10</text>
<text class="ty" x="1246.5" y="2404.78" text-anchor="middle">15</text>
<text class="ty" x="1246.5" y="2236.64" text-anchor="middle">20</text>
<text class="ty" x="1246.5" y="2068.5" text-anchor="middle">25</text>
<text class="tk" x="1318" y="2935.1" text-anchor="middle">8</text>
<text class="tk" x="1490.7" y="2935.1" text-anchor="middle">8.2</text>
<text class="tk" x="1663.4" y="2935.1" text-anchor="middle">8.4</text>
<text class="tk" x="1836.1" y="2935.1" text-anchor="middle">8.6</text>
<text class="tk" x="2008.8" y="2935.1" text-anchor="middle">8.8</text>
<text class="tk" x="2181.5" y="2935.1" text-anchor="middle">9</text>
<text class="ax" x="1750.25" y="2967.4" text-anchor="middle">Lifetime [us]</text>
<text class="ay" transform="translate(1215 2479.55) rotate(-90)" text-anchor="middle">Surface [%]</text>
<!-- row d -->
<rect x="25.5" y="3408.9" width="68.7" height="90.6" fill="#161616"/>
<text class="lb" transform="translate(59 3490.4) scale(0.96 1)" text-anchor="middle">d</text>
<g filter="url(#pd)"><g clip-path="url(#cpd)"><g filter="url(#fd)">
<rect x="124.2" y="2937.1" width="1003.4" height="1003.4" fill="rgb(94,94,94)"/>
<rect x="123.7" y="2936.6" width="344.56" height="133.71" fill="rgb(55,55,55)"/>
<rect x="467.26" y="2936.6" width="53.71" height="133.71" fill="rgb(68,68,68)"/>
<rect x="519.97" y="2936.6" width="53.71" height="133.71" fill="rgb(81,81,81)"/>
<rect x="572.69" y="2936.6" width="106.42" height="133.71" fill="rgb(41,41,41)"/>
<rect x="678.11" y="2936.6" width="53.71" height="133.71" fill="rgb(28,28,28)"/>
<rect x="730.83" y="2936.6" width="397.27" height="133.71" fill="rgb(68,68,68)"/>
<rect x="123.7" y="3069.31" width="291.85" height="53.71" fill="rgb(55,55,55)"/>
<rect x="414.55" y="3069.31" width="53.71" height="53.71" fill="rgb(68,68,68)"/>
<rect x="467.26" y="3069.31" width="53.71" height="53.71" fill="rgb(108,108,108)"/>
<rect x="519.97" y="3069.31" width="53.71" height="53.71" fill="rgb(81,81,81)"/>
<rect x="572.69" y="3069.31" width="106.42" height="53.71" fill="rgb(68,68,68)"/>
<rect x="678.11" y="3069.31" width="53.71" height="53.71" fill="rgb(41,41,41)"/>
<rect x="730.83" y="3069.31" width="106.42" height="53.71" fill="rgb(68,68,68)"/>
<rect x="836.25" y="3069.31" width="53.71" height="53.71" fill="rgb(108,108,108)"/>
<rect x="888.96" y="3069.31" width="239.14" height="53.71" fill="rgb(68,68,68)"/>
<rect x="123.7" y="3122.03" width="186.43" height="53.71" fill="rgb(134,134,134)"/>
<rect x="309.12" y="3122.03" width="53.71" height="53.71" fill="rgb(55,55,55)"/>
<rect x="361.84" y="3122.03" width="53.71" height="53.71" fill="rgb(41,41,41)"/>
<rect x="414.55" y="3122.03" width="53.71" height="53.71" fill="rgb(81,81,81)"/>
<rect x="467.26" y="3122.03" width="53.71" height="53.71" fill="rgb(94,94,94)"/>
<rect x="519.97" y="3122.03" width="53.71" height="53.71" fill="rgb(108,108,108)"/>
<rect x="572.69" y="3122.03" width="53.71" height="53.71" fill="rgb(55,55,55)"/>
<rect x="625.4" y="3122.03" width="159.14" height="53.71" fill="rgb(68,68,68)"/>
<rect x="783.54" y="3122.03" width="53.71" height="53.71" fill="rgb(81,81,81)"/>
<rect x="836.25" y="3122.03" width="53.71" height="53.71" fill="rgb(108,108,108)"/>
<rect x="888.96" y="3122.03" width="53.71" height="53.71" fill="rgb(68,68,68)"/>
<rect x="941.67" y="3122.03" width="186.42" height="53.71" fill="rgb(55,55,55)"/>
<rect x="123.7" y="3174.74" width="186.43" height="53.71" fill="rgb(187,187,187)"/>
<rect x="309.12" y="3174.74" width="53.71" height="53.71" fill="rgb(108,108,108)"/>
<rect x="361.84" y="3174.74" width="53.71" height="53.71" fill="rgb(41,41,41)"/>
<rect x="414.55" y="3174.74" width="53.71" height="53.71" fill="rgb(108,108,108)"/>
<rect x="467.26" y="3174.74" width="53.71" height="53.71" fill="rgb(94,94,94)"/>
<rect x="519.97" y="3174.74" width="53.71" height="53.71" fill="rgb(81,81,81)"/>
<rect x="572.69" y="3174.74" width="53.71" height="53.71" fill="rgb(68,68,68)"/>
<rect x="625.4" y="3174.74" width="53.71" height="53.71" fill="rgb(81,81,81)"/>
<rect x="678.11" y="3174.74" width="53.71" height="53.71" fill="rgb(68,68,68)"/>
<rect x="730.83" y="3174.74" width="53.71" height="53.71" fill="rgb(81,81,81)"/>
<rect x="783.54" y="3174.74" width="106.42" height="53.71" fill="rgb(108,108,108)"/>
<rect x="888.96" y="3174.74" width="53.71" height="53.71" fill="rgb(81,81,81)"/>
<rect x="941.67" y="3174.74" width="186.42" height="53.71" fill="rgb(55,55,55)"/>
<rect x="123.7" y="3227.45" width="133.71" height="53.71" fill="rgb(227,227,227)"/>
<rect x="256.41" y="3227.45" width="53.71" height="53.71" fill="rgb(147,147,147)"/>
<rect x="309.12" y="3227.45" width="53.71" height="53.71" fill="rgb(68,68,68)"/>
<rect x="361.84" y="3227.45" width="53.71" height="53.71" fill="rgb(81,81,81)"/>
<rect x="414.55" y="3227.45" width="106.42" height="53.71" fill="rgb(108,108,108)"/>
<rect x="519.97" y="3227.45" width="53.71" height="53.71" fill="rgb(81,81,81)"/>
<rect x="572.69" y="3227.45" width="53.71" height="53.71" fill="rgb(41,41,41)"/>
<rect x="625.4" y="3227.45" width="53.71" height="53.71" fill="rgb(55,55,55)"/>
<rect x="678.11" y="3227.45" width="53.71" height="53.71" fill="rgb(68,68,68)"/>
<rect x="730.83" y="3227.45" width="53.71" height="53.71" fill="rgb(81,81,81)"/>
<rect x="783.54" y="3227.45" width="53.71" height="53.71" fill="rgb(108,108,108)"/>
<rect x="836.25" y="3227.45" width="53.71" height="53.71" fill="rgb(121,121,121)"/>
<rect x="888.96" y="3227.45" width="53.71" height="53.71" fill="rgb(68,68,68)"/>
<rect x="941.67" y="3227.45" width="53.71" height="53.71" fill="rgb(41,41,41)"/>
<rect x="994.39" y="3227.45" width="133.71" height="53.71" fill="rgb(68,68,68)"/>
<rect x="123.7" y="3280.16" width="133.71" height="53.71" fill="rgb(214,214,214)"/>
<rect x="256.41" y="3280.16" width="53.71" height="53.71" fill="rgb(108,108,108)"/>
<rect x="309.12" y="3280.16" width="53.71" height="53.71" fill="rgb(68,68,68)"/>
<rect x="361.84" y="3280.16" width="106.43" height="53.71" fill="rgb(121,121,121)"/>
<rect x="467.26" y="3280.16" width="53.71" height="53.71" fill="rgb(108,108,108)"/>
<rect x="519.97" y="3280.16" width="53.71" height="53.71" fill="rgb(81,81,81)"/>
<rect x="572.69" y="3280.16" width="53.71" height="53.71" fill="rgb(55,55,55)"/>
<rect x="625.4" y="3280.16" width="106.43" height="53.71" fill="rgb(41,41,41)"/>
<rect x="730.83" y="3280.16" width="53.71" height="53.71" fill="rgb(94,94,94)"/>
<rect x="783.54" y="3280.16" width="53.71" height="53.71" fill="rgb(134,134,134)"/>
<rect x="836.25" y="3280.16" width="53.71" height="53.71" fill="rgb(108,108,108)"/>
<rect x="888.96" y="3280.16" width="53.71" height="53.71" fill="rgb(55,55,55)"/>
<rect x="941.67" y="3280.16" width="53.71" height="53.71" fill="rgb(68,68,68)"/>
<rect x="994.39" y="3280.16" width="133.71" height="53.71" fill="rgb(134,134,134)"/>
<rect x="123.7" y="3332.88" width="133.71" height="53.71" fill="rgb(161,161,161)"/>
<rect x="256.41" y="3332.88" width="53.71" height="53.71" fill="rgb(94,94,94)"/>
<rect x="309.12" y="3332.88" width="53.71" height="53.71" fill="rgb(68,68,68)"/>
<rect x="361.84" y="3332.88" width="53.71" height="53.71" fill="rgb(94,94,94)"/>
<rect x="414.55" y="3332.88" width="53.71" height="53.71" fill="rgb(121,121,121)"/>
<rect x="467.26" y="3332.88" width="53.71" height="53.71" fill="rgb(147,147,147)"/>
<rect x="519.97" y="3332.88" width="53.71" height="53.71" fill="rgb(108,108,108)"/>
<rect x="572.69" y="3332.88" width="53.71" height="53.71" fill="rgb(81,81,81)"/>
<rect x="625.4" y="3332.88" width="53.71" height="53.71" fill="rgb(55,55,55)"/>
<rect x="678.11" y="3332.88" width="53.71" height="53.71" fill="rgb(68,68,68)"/>
<rect x="730.83" y="3332.88" width="53.71" height="53.71" fill="rgb(108,108,108)"/>
<rect x="783.54" y="3332.88" width="53.71" height="53.71" fill="rgb(121,121,121)"/>
<rect x="836.25" y="3332.88" width="53.71" height="53.71" fill="rgb(108,108,108)"/>
<rect x="888.96" y="3332.88" width="53.71" height="53.71" fill="rgb(81,81,81)"/>
<rect x="941.67" y="3332.88" width="53.71" height="53.71" fill="rgb(94,94,94)"/>
<rect x="994.39" y="3332.88" width="133.71" height="53.71" fill="rgb(134,134,134)"/>
<rect x="123.7" y="3385.59" width="133.71" height="53.71" fill="rgb(161,161,161)"/>
<rect x="256.41" y="3385.59" width="53.71" height="53.71" fill="rgb(108,108,108)"/>
<rect x="309.12" y="3385.59" width="53.71" height="53.71" fill="rgb(68,68,68)"/>
<rect x="361.84" y="3385.59" width="53.71" height="53.71" fill="rgb(81,81,81)"/>
<rect x="414.55" y="3385.59" width="53.71" height="53.71" fill="rgb(134,134,134)"/>
<rect x="467.26" y="3385.59" width="53.71" height="53.71" fill="rgb(147,147,147)"/>
<rect x="519.97" y="3385.59" width="53.71" height="53.71" fill="rgb(108,108,108)"/>
<rect x="572.69" y="3385.59" width="159.14" height="53.71" fill="rgb(68,68,68)"/>
<rect x="730.83" y="3385.59" width="53.71" height="53.71" fill="rgb(94,94,94)"/>
<rect x="783.54" y="3385.59" width="53.71" height="53.71" fill="rgb(108,108,108)"/>
<rect x="836.25" y="3385.59" width="53.71" height="53.71" fill="rgb(94,94,94)"/>
<rect x="888.96" y="3385.59" width="53.71" height="53.71" fill="rgb(68,68,68)"/>
<rect x="941.67" y="3385.59" width="53.71" height="53.71" fill="rgb(81,81,81)"/>
<rect x="994.39" y="3385.59" width="133.71" height="53.71" fill="rgb(147,147,147)"/>
<rect x="123.7" y="3438.3" width="133.71" height="53.71" fill="rgb(161,161,161)"/>
<rect x="256.41" y="3438.3" width="53.71" height="53.71" fill="rgb(94,94,94)"/>
<rect x="309.12" y="3438.3" width="53.71" height="53.71" fill="rgb(55,55,55)"/>
<rect x="361.84" y="3438.3" width="53.71" height="53.71" fill="rgb(68,68,68)"/>
<rect x="414.55" y="3438.3" width="53.71" height="53.71" fill="rgb(121,121,121)"/>
<rect x="467.26" y="3438.3" width="53.71" height="53.71" fill="rgb(134,134,134)"/>
<rect x="519.97" y="3438.3" width="53.71" height="53.71" fill="rgb(94,94,94)"/>
<rect x="572.69" y="3438.3" width="159.14" height="53.71" fill="rgb(68,68,68)"/>
<rect x="730.83" y="3438.3" width="53.71" height="53.71" fill="rgb(94,94,94)"/>
<rect x="783.54" y="3438.3" width="53.71" height="53.71" fill="rgb(108,108,108)"/>
<rect x="836.25" y="3438.3" width="106.42" height="53.71" fill="rgb(68,68,68)"/>
<rect x="941.67" y="3438.3" width="53.71" height="53.71" fill="rgb(94,94,94)"/>
<rect x="994.39" y="3438.3" width="133.71" height="53.71" fill="rgb(161,161,161)"/>
<rect x="123.7" y="3491.01" width="133.71" height="53.71" fill="rgb(147,147,147)"/>
<rect x="256.41" y="3491.01" width="53.71" height="53.71" fill="rgb(94,94,94)"/>
<rect x="309.12" y="3491.01" width="53.71" height="53.71" fill="rgb(68,68,68)"/>
<rect x="361.84" y="3491.01" width="53.71" height="53.71" fill="rgb(94,94,94)"/>
<rect x="414.55" y="3491.01" width="53.71" height="53.71" fill="rgb(147,147,147)"/>
<rect x="467.26" y="3491.01" width="53.71" height="53.71" fill="rgb(121,121,121)"/>
<rect x="519.97" y="3491.01" width="53.71" height="53.71" fill="rgb(108,108,108)"/>
<rect x="572.69" y="3491.01" width="53.71" height="53.71" fill="rgb(68,68,68)"/>
<rect x="625.4" y="3491.01" width="53.71" height="53.71" fill="rgb(55,55,55)"/>
<rect x="678.11" y="3491.01" width="53.71" height="53.71" fill="rgb(68,68,68)"/>
<rect x="730.83" y="3491.01" width="53.71" height="53.71" fill="rgb(108,108,108)"/>
<rect x="783.54" y="3491.01" width="53.71" height="53.71" fill="rgb(134,134,134)"/>
<rect x="836.25" y="3491.01" width="53.71" height="53.71" fill="rgb(94,94,94)"/>
<rect x="888.96" y="3491.01" width="53.71" height="53.71" fill="rgb(55,55,55)"/>
<rect x="941.67" y="3491.01" width="53.71" height="53.71" fill="rgb(81,81,81)"/>
<rect x="994.39" y="3491.01" width="133.71" height="53.71" fill="rgb(147,147,147)"/>
<rect x="123.7" y="3543.73" width="133.71" height="53.71" fill="rgb(121,121,121)"/>
<rect x="256.41" y="3543.73" width="53.71" height="53.71" fill="rgb(68,68,68)"/>
<rect x="309.12" y="3543.73" width="53.71" height="53.71" fill="rgb(81,81,81)"/>
<rect x="361.84" y="3543.73" width="53.71" height="53.71" fill="rgb(108,108,108)"/>
<rect x="414.55" y="3543.73" width="53.71" height="53.71" fill="rgb(147,147,147)"/>
<rect x="467.26" y="3543.73" width="53.71" height="53.71" fill="rgb(134,134,134)"/>
<rect x="519.97" y="3543.73" width="53.71" height="53.71" fill="rgb(108,108,108)"/>
<rect x="572.69" y="3543.73" width="106.42" height="53.71" fill="rgb(68,68,68)"/>
<rect x="678.11" y="3543.73" width="53.71" height="53.71" fill="rgb(81,81,81)"/>
<rect x="730.83" y="3543.73" width="53.71" height="53.71" fill="rgb(108,108,108)"/>
<rect x="783.54" y="3543.73" width="53.71" height="53.71" fill="rgb(134,134,134)"/>
<rect x="836.25" y="3543.73" width="53.71" height="53.71" fill="rgb(108,108,108)"/>
<rect x="888.96" y="3543.73" width="53.71" height="53.71" fill="rgb(68,68,68)"/>
<rect x="941.67" y="3543.73" width="53.71" height="53.71" fill="rgb(81,81,81)"/>
<rect x="994.39" y="3543.73" width="133.71" height="53.71" fill="rgb(121,121,121)"/>
<rect x="123.7" y="3596.44" width="133.71" height="53.71" fill="rgb(108,108,108)"/>
<rect x="256.41" y="3596.44" width="53.71" height="53.71" fill="rgb(55,55,55)"/>
<rect x="309.12" y="3596.44" width="53.71" height="53.71" fill="rgb(81,81,81)"/>
<rect x="361.84" y="3596.44" width="53.71" height="53.71" fill="rgb(108,108,108)"/>
<rect x="414.55" y="3596.44" width="53.71" height="53.71" fill="rgb(161,161,161)"/>
<rect x="467.26" y="3596.44" width="53.71" height="53.71" fill="rgb(147,147,147)"/>
<rect x="519.97" y="3596.44" width="53.71" height="53.71" fill="rgb(108,108,108)"/>
<rect x="572.69" y="3596.44" width="53.71" height="53.71" fill="rgb(94,94,94)"/>
<rect x="625.4" y="3596.44" width="53.71" height="53.71" fill="rgb(55,55,55)"/>
<rect x="678.11" y="3596.44" width="53.71" height="53.71" fill="rgb(68,68,68)"/>
<rect x="730.83" y="3596.44" width="53.71" height="53.71" fill="rgb(94,94,94)"/>
<rect x="783.54" y="3596.44" width="53.71" height="53.71" fill="rgb(108,108,108)"/>
<rect x="836.25" y="3596.44" width="53.71" height="53.71" fill="rgb(81,81,81)"/>
<rect x="888.96" y="3596.44" width="53.71" height="53.71" fill="rgb(68,68,68)"/>
<rect x="941.67" y="3596.44" width="53.71" height="53.71" fill="rgb(81,81,81)"/>
<rect x="994.39" y="3596.44" width="133.71" height="53.71" fill="rgb(108,108,108)"/>
<rect x="123.7" y="3649.15" width="186.43" height="53.71" fill="rgb(68,68,68)"/>
<rect x="309.12" y="3649.15" width="53.71" height="53.71" fill="rgb(108,108,108)"/>
<rect x="361.84" y="3649.15" width="53.71" height="53.71" fill="rgb(121,121,121)"/>
<rect x="414.55" y="3649.15" width="53.71" height="53.71" fill="rgb(108,108,108)"/>
<rect x="467.26" y="3649.15" width="53.71" height="53.71" fill="rgb(94,94,94)"/>
<rect x="519.97" y="3649.15" width="53.71" height="53.71" fill="rgb(108,108,108)"/>
<rect x="572.69" y="3649.15" width="53.71" height="53.71" fill="rgb(81,81,81)"/>
<rect x="625.4" y="3649.15" width="53.71" height="53.71" fill="rgb(55,55,55)"/>
<rect x="678.11" y="3649.15" width="53.71" height="53.71" fill="rgb(68,68,68)"/>
<rect x="730.83" y="3649.15" width="53.71" height="53.71" fill="rgb(81,81,81)"/>
<rect x="783.54" y="3649.15" width="159.14" height="53.71" fill="rgb(68,68,68)"/>
<rect x="941.67" y="3649.15" width="186.42" height="53.71" fill="rgb(108,108,108)"/>
<rect x="123.7" y="3701.86" width="239.14" height="53.71" fill="rgb(108,108,108)"/>
<rect x="361.84" y="3701.86" width="53.71" height="53.71" fill="rgb(147,147,147)"/>
<rect x="414.55" y="3701.86" width="53.71" height="53.71" fill="rgb(121,121,121)"/>
<rect x="467.26" y="3701.86" width="53.71" height="53.71" fill="rgb(108,108,108)"/>
<rect x="519.97" y="3701.86" width="53.71" height="53.71" fill="rgb(81,81,81)"/>
<rect x="572.69" y="3701.86" width="53.71" height="53.71" fill="rgb(94,94,94)"/>
<rect x="625.4" y="3701.86" width="106.43" height="53.71" fill="rgb(108,108,108)"/>
<rect x="730.83" y="3701.86" width="53.71" height="53.71" fill="rgb(134,134,134)"/>
<rect x="783.54" y="3701.86" width="106.42" height="53.71" fill="rgb(68,68,68)"/>
<rect x="888.96" y="3701.86" width="239.14" height="53.71" fill="rgb(81,81,81)"/>
<rect x="123.7" y="3754.58" width="344.56" height="53.71" fill="rgb(108,108,108)"/>
<rect x="467.26" y="3754.58" width="106.43" height="53.71" fill="rgb(81,81,81)"/>
<rect x="572.69" y="3754.58" width="53.71" height="53.71" fill="rgb(108,108,108)"/>
<rect x="625.4" y="3754.58" width="53.71" height="53.71" fill="rgb(147,147,147)"/>
<rect x="678.11" y="3754.58" width="53.71" height="53.71" fill="rgb(161,161,161)"/>
<rect x="730.83" y="3754.58" width="53.71" height="53.71" fill="rgb(147,147,147)"/>
<rect x="783.54" y="3754.58" width="53.71" height="53.71" fill="rgb(134,134,134)"/>
<rect x="836.25" y="3754.58" width="291.85" height="53.71" fill="rgb(121,121,121)"/>
<rect x="123.7" y="3807.29" width="344.56" height="133.71" fill="rgb(68,68,68)"/>
<rect x="467.26" y="3807.29" width="53.71" height="133.71" fill="rgb(81,81,81)"/>
<rect x="519.97" y="3807.29" width="53.71" height="133.71" fill="rgb(108,108,108)"/>
<rect x="572.69" y="3807.29" width="53.71" height="133.71" fill="rgb(121,121,121)"/>
<rect x="625.4" y="3807.29" width="53.71" height="133.71" fill="rgb(134,134,134)"/>
<rect x="678.11" y="3807.29" width="106.42" height="133.71" fill="rgb(147,147,147)"/>
<rect x="783.54" y="3807.29" width="344.56" height="133.71" fill="rgb(161,161,161)"/>
</g>
</g></g>
<rect x="201.3" y="3435.6" width="5" height="8.6" fill="#5f8ec2"/>
<rect x="1046" y="3434.7" width="13" height="8.6" fill="#7ebb3e"/>
<rect x="621.4" y="3009.7" width="10.3" height="9" fill="#dd6a2d"/>
<rect x="622" y="3859.5" width="9" height="9.3" fill="#d8c838"/>
<rect x="201.8" y="3879.5" width="22" height="50.1" fill="#8e2f2a"/>
<rect x="1036.5" y="3879.5" width="21" height="50.1" fill="#1a1a1a"/>
<rect x="408.6" y="3879" width="22.6" height="50.6" fill="#b5332a"/>
<rect x="430.6" y="3879" width="22.6" height="50.6" fill="#d03a2e"/>
<rect x="452.6" y="3879" width="22.6" height="50.6" fill="#dd6a2d"/>
<rect x="474.6" y="3879" width="22.6" height="50.6" fill="#dd8430"/>
<rect x="496.6" y="3879" width="22.6" height="50.6" fill="#df9a32"/>
<rect x="518.6" y="3879" width="22.6" height="50.6" fill="#e0b338"/>
<rect x="540.6" y="3879" width="22.6" height="50.6" fill="#e0d23d"/>
<rect x="562.6" y="3879" width="22.6" height="50.6" fill="#dade45"/>
<rect x="584.6" y="3879" width="22.6" height="50.6" fill="#b9d340"/>
<rect x="606.6" y="3879" width="22.6" height="50.6" fill="#9dc83c"/>
<rect x="628.6" y="3879" width="22.6" height="50.6" fill="#7ebb3e"/>
<rect x="650.6" y="3879" width="22.6" height="50.6" fill="#62b146"/>
<rect x="672.6" y="3879" width="22.6" height="50.6" fill="#5ab268"/>
<rect x="694.6" y="3879" width="22.6" height="50.6" fill="#5fa98d"/>
<rect x="716.6" y="3879" width="22.6" height="50.6" fill="#539fa8"/>
<rect x="738.6" y="3879" width="22.6" height="50.6" fill="#5f8ec2"/>
<rect x="760.6" y="3879" width="22.6" height="50.6" fill="#5874b1"/>
<rect x="782.6" y="3879" width="22.6" height="50.6" fill="#4f5ba0"/>
<rect x="804.6" y="3879" width="22.6" height="50.6" fill="#4a4390"/>
<rect x="826.6" y="3879" width="22" height="50.6" fill="#422a77"/>
<text class="lg" x="251.06" y="3921.3" font-size="36" stroke-width="0.79" textLength="125.88" lengthAdjust="spacingAndGlyphs">10.6 us</text>
<text class="lg" x="896.56" y="3921.3" font-size="36" stroke-width="0.79" textLength="90.38" lengthAdjust="spacingAndGlyphs">11 us</text>
<path class="gr" d="M1319 3041V3876.3M1491.7 3041V3876.3M1664.4 3041V3876.3M1837.1 3041V3876.3M2009.8 3041V3876.3M2182.5 3041V3876.3M1319 3667.48H2182.5M1319 3458.65H2182.5M1319 3249.82H2182.5M1319 3041H2182.5"/>
<path d="M1274 3876.3H2228" stroke="#666" stroke-width="3.2" fill="none"/>
<rect class="br" x="1275" y="3872.96" width="42.4" height="3.34" fill="#2a1a1a"/>
<rect class="br" x="1317.4" y="3852.91" width="43.33" height="23.39" fill="#b5332a"/>
<rect class="br" x="1360.73" y="3705.06" width="43.33" height="171.24" fill="#d03a2e"/>
<rect class="br" x="1404.06" y="3533.83" width="43.33" height="342.47" fill="#dd6a2d"/>
<rect class="br" x="1447.39" y="3276.97" width="43.33" height="599.33" fill="#dd8430"/>
<rect class="br" x="1490.72" y="3168.38" width="43.33" height="707.92" fill="#df9a32"/>
<rect class="br" x="1534.05" y="3312.47" width="43.33" height="563.83" fill="#e0b338"/>
<rect class="br" x="1577.38" y="3314.56" width="43.33" height="561.74" fill="#e0d23d"/>
<rect class="br" x="1620.71" y="3366.77" width="43.33" height="509.53" fill="#dade45"/>
<rect class="br" x="1664.04" y="3558.89" width="43.33" height="317.41" fill="#b9d340"/>
<rect class="br" x="1707.37" y="3715.5" width="43.33" height="160.8" fill="#9dc83c"/>
<rect class="br" x="1750.7" y="3780.24" width="43.33" height="96.06" fill="#7ebb3e"/>
<rect class="br" x="1794.03" y="3834.54" width="43.33" height="41.77" fill="#62b146"/>
<rect class="br" x="1837.36" y="3844.98" width="43.33" height="31.32" fill="#5ab268"/>
<rect class="br" x="1880.69" y="3857.51" width="43.33" height="18.79" fill="#5fa98d"/>
<rect class="br" x="1924.02" y="3867.95" width="43.33" height="8.35" fill="#539fa8"/>
<rect class="br" x="1967.35" y="3872.12" width="43.33" height="4.18" fill="#5f8ec2"/>
<rect class="br" x="2010.68" y="3874.21" width="43.33" height="2.09" fill="#5874b1"/>
<rect class="br" x="2054.01" y="3875.05" width="43.33" height="1.25" fill="#4f5ba0"/>
<text class="ty" x="1246.5" y="3885.6" text-anchor="middle">0</text>
<text class="ty" x="1246.5" y="3676.78" text-anchor="middle">5</text>
<text class="ty" x="1246.5" y="3467.95" text-anchor="middle">10</text>
<text class="ty" x="1246.5" y="3259.12" text-anchor="middle">15</text>
<text class="ty" x="1246.5" y="3050.3" text-anchor="middle">20</text>
<text class="tk" x="1318" y="3911.5" text-anchor="middle">10.6</text>
<text class="tk" x="1490.7" y="3911.5" text-anchor="middle">10.68</text>
<text class="tk" x="1663.4" y="3911.5" text-anchor="middle">10.76</text>
<text class="tk" x="1836.1" y="3911.5" text-anchor="middle">10.84</text>
<text class="tk" x="2008.8" y="3911.5" text-anchor="middle">10.92</text>
<text class="tk" x="2181.5" y="3911.5" text-anchor="middle">11</text>
<text class="ax" x="1750.25" y="3943.8" text-anchor="middle">Lifetime [us]</text>
<text class="ay" transform="translate(1215 3458.65) rotate(-90)" text-anchor="middle">Surface [%]</text>
<!-- row e -->
<rect x="21" y="4378.4" width="71" height="92.8" fill="#161616"/>
<text class="lb" transform="translate(54.6 4451.8) scale(1 1)" text-anchor="middle">e</text>
<g filter="url(#pe)"><g clip-path="url(#cpe)"><g filter="url(#fe)">
<rect x="127.8" y="3936.6" width="1003" height="1003" fill="rgb(94,94,94)"/>
<rect x="127.3" y="3936.1" width="397.12" height="133.69" fill="rgb(94,94,94)"/>
<rect x="523.42" y="3936.1" width="211.75" height="133.69" fill="rgb(83,83,83)"/>
<rect x="734.17" y="3936.1" width="53.69" height="133.69" fill="rgb(61,61,61)"/>
<rect x="786.86" y="3936.1" width="344.44" height="133.69" fill="rgb(72,72,72)"/>
<rect x="127.3" y="4068.79" width="239.06" height="53.69" fill="rgb(105,105,105)"/>
<rect x="365.36" y="4068.79" width="211.75" height="53.69" fill="rgb(83,83,83)"/>
<rect x="576.11" y="4068.79" width="106.38" height="53.69" fill="rgb(94,94,94)"/>
<rect x="681.49" y="4068.79" width="53.69" height="53.69" fill="rgb(83,83,83)"/>
<rect x="734.17" y="4068.79" width="53.69" height="53.69" fill="rgb(61,61,61)"/>
<rect x="786.86" y="4068.79" width="53.69" height="53.69" fill="rgb(72,72,72)"/>
<rect x="839.55" y="4068.79" width="53.69" height="53.69" fill="rgb(94,94,94)"/>
<rect x="892.24" y="4068.79" width="239.06" height="53.69" fill="rgb(105,105,105)"/>
<rect x="127.3" y="4121.48" width="186.38" height="53.69" fill="rgb(128,128,128)"/>
<rect x="312.67" y="4121.48" width="53.69" height="53.69" fill="rgb(105,105,105)"/>
<rect x="365.36" y="4121.48" width="211.75" height="53.69" fill="rgb(83,83,83)"/>
<rect x="576.11" y="4121.48" width="159.06" height="53.69" fill="rgb(94,94,94)"/>
<rect x="734.17" y="4121.48" width="106.38" height="53.69" fill="rgb(72,72,72)"/>
<rect x="839.55" y="4121.48" width="53.69" height="53.69" fill="rgb(94,94,94)"/>
<rect x="892.24" y="4121.48" width="53.69" height="53.69" fill="rgb(116,116,116)"/>
<rect x="944.92" y="4121.48" width="186.38" height="53.69" fill="rgb(128,128,128)"/>
<rect x="127.3" y="4174.16" width="186.38" height="53.69" fill="rgb(105,105,105)"/>
<rect x="312.67" y="4174.16" width="53.69" height="53.69" fill="rgb(94,94,94)"/>
<rect x="365.36" y="4174.16" width="106.38" height="53.69" fill="rgb(83,83,83)"/>
<rect x="470.74" y="4174.16" width="53.69" height="53.69" fill="rgb(94,94,94)"/>
<rect x="523.42" y="4174.16" width="53.69" height="53.69" fill="rgb(83,83,83)"/>
<rect x="576.11" y="4174.16" width="53.69" height="53.69" fill="rgb(94,94,94)"/>
<rect x="628.8" y="4174.16" width="53.69" height="53.69" fill="rgb(83,83,83)"/>
<rect x="681.49" y="4174.16" width="53.69" height="53.69" fill="rgb(94,94,94)"/>
<rect x="734.17" y="4174.16" width="53.69" height="53.69" fill="rgb(72,72,72)"/>
<rect x="786.86" y="4174.16" width="53.69" height="53.69" fill="rgb(83,83,83)"/>
<rect x="839.55" y="4174.16" width="53.69" height="53.69" fill="rgb(94,94,94)"/>
<rect x="892.24" y="4174.16" width="53.69" height="53.69" fill="rgb(116,116,116)"/>
<rect x="944.92" y="4174.16" width="53.69" height="53.69" fill="rgb(139,139,139)"/>
<rect x="997.61" y="4174.16" width="133.69" height="53.69" fill="rgb(161,161,161)"/>
<rect x="127.3" y="4226.85" width="133.69" height="53.69" fill="rgb(94,94,94)"/>
<rect x="259.99" y="4226.85" width="106.38" height="53.69" fill="rgb(83,83,83)"/>
<rect x="365.36" y="4226.85" width="53.69" height="53.69" fill="rgb(94,94,94)"/>
<rect x="418.05" y="4226.85" width="106.38" height="53.69" fill="rgb(83,83,83)"/>
<rect x="523.42" y="4226.85" width="53.69" height="53.69" fill="rgb(94,94,94)"/>
<rect x="576.11" y="4226.85" width="159.06" height="53.69" fill="rgb(83,83,83)"/>
<rect x="734.17" y="4226.85" width="106.38" height="53.69" fill="rgb(94,94,94)"/>
<rect x="839.55" y="4226.85" width="53.69" height="53.69" fill="rgb(105,105,105)"/>
<rect x="892.24" y="4226.85" width="53.69" height="53.69" fill="rgb(128,128,128)"/>
<rect x="944.92" y="4226.85" width="53.69" height="53.69" fill="rgb(161,161,161)"/>
<rect x="997.61" y="4226.85" width="133.69" height="53.69" fill="rgb(194,194,194)"/>
<rect x="127.3" y="4279.54" width="133.69" height="53.69" fill="rgb(94,94,94)"/>
<rect x="259.99" y="4279.54" width="53.69" height="53.69" fill="rgb(72,72,72)"/>
<rect x="312.67" y="4279.54" width="53.69" height="53.69" fill="rgb(61,61,61)"/>
<rect x="365.36" y="4279.54" width="53.69" height="53.69" fill="rgb(83,83,83)"/>
<rect x="418.05" y="4279.54" width="53.69" height="53.69" fill="rgb(94,94,94)"/>
<rect x="470.74" y="4279.54" width="106.38" height="53.69" fill="rgb(105,105,105)"/>
<rect x="576.11" y="4279.54" width="53.69" height="53.69" fill="rgb(94,94,94)"/>
<rect x="628.8" y="4279.54" width="159.06" height="53.69" fill="rgb(72,72,72)"/>
<rect x="786.86" y="4279.54" width="53.69" height="53.69" fill="rgb(94,94,94)"/>
<rect x="839.55" y="4279.54" width="53.69" height="53.69" fill="rgb(105,105,105)"/>
<rect x="892.24" y="4279.54" width="53.69" height="53.69" fill="rgb(128,128,128)"/>
<rect x="944.92" y="4279.54" width="53.69" height="53.69" fill="rgb(161,161,161)"/>
<rect x="997.61" y="4279.54" width="133.69" height="53.69" fill="rgb(216,216,216)"/>
<rect x="127.3" y="4332.23" width="133.69" height="53.69" fill="rgb(139,139,139)"/>
<rect x="259.99" y="4332.23" width="53.69" height="53.69" fill="rgb(94,94,94)"/>
<rect x="312.67" y="4332.23" width="53.69" height="53.69" fill="rgb(72,72,72)"/>
<rect x="365.36" y="4332.23" width="53.69" height="53.69" fill="rgb(61,61,61)"/>
<rect x="418.05" y="4332.23" width="53.69" height="53.69" fill="rgb(94,94,94)"/>
<rect x="470.74" y="4332.23" width="106.38" height="53.69" fill="rgb(105,105,105)"/>
<rect x="576.11" y="4332.23" width="53.69" height="53.69" fill="rgb(94,94,94)"/>
<rect x="628.8" y="4332.23" width="53.69" height="53.69" fill="rgb(83,83,83)"/>
<rect x="681.49" y="4332.23" width="53.69" height="53.69" fill="rgb(61,61,61)"/>
<rect x="734.17" y="4332.23" width="53.69" height="53.69" fill="rgb(83,83,83)"/>
<rect x="786.86" y="4332.23" width="53.69" height="53.69" fill="rgb(94,94,94)"/>
<rect x="839.55" y="4332.23" width="53.69" height="53.69" fill="rgb(105,105,105)"/>
<rect x="892.24" y="4332.23" width="53.69" height="53.69" fill="rgb(128,128,128)"/>
<rect x="944.92" y="4332.23" width="53.69" height="53.69" fill="rgb(150,150,150)"/>
<rect x="997.61" y="4332.23" width="133.69" height="53.69" fill="rgb(205,205,205)"/>
<rect x="127.3" y="4384.91" width="133.69" height="53.69" fill="rgb(139,139,139)"/>
<rect x="259.99" y="4384.91" width="53.69" height="53.69" fill="rgb(105,105,105)"/>
<rect x="312.67" y="4384.91" width="53.69" height="53.69" fill="rgb(94,94,94)"/>
<rect x="365.36" y="4384.91" width="53.69" height="53.69" fill="rgb(72,72,72)"/>
<rect x="418.05" y="4384.91" width="53.69" height="53.69" fill="rgb(83,83,83)"/>
<rect x="470.74" y="4384.91" width="106.38" height="53.69" fill="rgb(105,105,105)"/>
<rect x="576.11" y="4384.91" width="53.69" height="53.69" fill="rgb(94,94,94)"/>
<rect x="628.8" y="4384.91" width="53.69" height="53.69" fill="rgb(72,72,72)"/>
<rect x="681.49" y="4384.91" width="53.69" height="53.69" fill="rgb(50,50,50)"/>
<rect x="734.17" y="4384.91" width="53.69" height="53.69" fill="rgb(83,83,83)"/>
<rect x="786.86" y="4384.91" width="53.69" height="53.69" fill="rgb(94,94,94)"/>
<rect x="839.55" y="4384.91" width="53.69" height="53.69" fill="rgb(105,105,105)"/>
<rect x="892.24" y="4384.91" width="53.69" height="53.69" fill="rgb(128,128,128)"/>
<rect x="944.92" y="4384.91" width="53.69" height="53.69" fill="rgb(161,161,161)"/>
<rect x="997.61" y="4384.91" width="133.69" height="53.69" fill="rgb(227,227,227)"/>
<rect x="127.3" y="4437.6" width="133.69" height="53.69" fill="rgb(128,128,128)"/>
<rect x="259.99" y="4437.6" width="53.69" height="53.69" fill="rgb(105,105,105)"/>
<rect x="312.67" y="4437.6" width="53.69" height="53.69" fill="rgb(94,94,94)"/>
<rect x="365.36" y="4437.6" width="53.69" height="53.69" fill="rgb(72,72,72)"/>
<rect x="418.05" y="4437.6" width="53.69" height="53.69" fill="rgb(83,83,83)"/>
<rect x="470.74" y="4437.6" width="53.69" height="53.69" fill="rgb(94,94,94)"/>
<rect x="523.42" y="4437.6" width="53.69" height="53.69" fill="rgb(105,105,105)"/>
<rect x="576.11" y="4437.6" width="53.69" height="53.69" fill="rgb(116,116,116)"/>
<rect x="628.8" y="4437.6" width="106.38" height="53.69" fill="rgb(61,61,61)"/>
<rect x="734.17" y="4437.6" width="53.69" height="53.69" fill="rgb(94,94,94)"/>
<rect x="786.86" y="4437.6" width="106.38" height="53.69" fill="rgb(105,105,105)"/>
<rect x="892.24" y="4437.6" width="53.69" height="53.69" fill="rgb(128,128,128)"/>
<rect x="944.92" y="4437.6" width="53.69" height="53.69" fill="rgb(161,161,161)"/>
<rect x="997.61" y="4437.6" width="133.69" height="53.69" fill="rgb(216,216,216)"/>
<rect x="127.3" y="4490.29" width="133.69" height="53.69" fill="rgb(105,105,105)"/>
<rect x="259.99" y="4490.29" width="53.69" height="53.69" fill="rgb(116,116,116)"/>
<rect x="312.67" y="4490.29" width="53.69" height="53.69" fill="rgb(94,94,94)"/>
<rect x="365.36" y="4490.29" width="53.69" height="53.69" fill="rgb(83,83,83)"/>
<rect x="418.05" y="4490.29" width="53.69" height="53.69" fill="rgb(72,72,72)"/>
<rect x="470.74" y="4490.29" width="53.69" height="53.69" fill="rgb(94,94,94)"/>
<rect x="523.42" y="4490.29" width="106.38" height="53.69" fill="rgb(105,105,105)"/>
<rect x="628.8" y="4490.29" width="53.69" height="53.69" fill="rgb(94,94,94)"/>
<rect x="681.49" y="4490.29" width="53.69" height="53.69" fill="rgb(83,83,83)"/>
<rect x="734.17" y="4490.29" width="53.69" height="53.69" fill="rgb(94,94,94)"/>
<rect x="786.86" y="4490.29" width="106.38" height="53.69" fill="rgb(116,116,116)"/>
<rect x="892.24" y="4490.29" width="53.69" height="53.69" fill="rgb(128,128,128)"/>
<rect x="944.92" y="4490.29" width="53.69" height="53.69" fill="rgb(161,161,161)"/>
<rect x="997.61" y="4490.29" width="133.69" height="53.69" fill="rgb(194,194,194)"/>
<rect x="127.3" y="4542.98" width="186.38" height="53.69" fill="rgb(105,105,105)"/>
<rect x="312.67" y="4542.98" width="53.69" height="53.69" fill="rgb(94,94,94)"/>
<rect x="365.36" y="4542.98" width="106.38" height="53.69" fill="rgb(83,83,83)"/>
<rect x="470.74" y="4542.98" width="53.69" height="53.69" fill="rgb(72,72,72)"/>
<rect x="523.42" y="4542.98" width="53.69" height="53.69" fill="rgb(83,83,83)"/>
<rect x="576.11" y="4542.98" width="106.38" height="53.69" fill="rgb(105,105,105)"/>
<rect x="681.49" y="4542.98" width="106.38" height="53.69" fill="rgb(94,94,94)"/>
<rect x="786.86" y="4542.98" width="53.69" height="53.69" fill="rgb(105,105,105)"/>
<rect x="839.55" y="4542.98" width="53.69" height="53.69" fill="rgb(116,116,116)"/>
<rect x="892.24" y="4542.98" width="53.69" height="53.69" fill="rgb(128,128,128)"/>
<rect x="944.92" y="4542.98" width="53.69" height="53.69" fill="rgb(150,150,150)"/>
<rect x="997.61" y="4542.98" width="133.69" height="53.69" fill="rgb(194,194,194)"/>
<rect x="127.3" y="4595.66" width="186.38" height="53.69" fill="rgb(105,105,105)"/>
<rect x="312.67" y="4595.66" width="53.69" height="53.69" fill="rgb(94,94,94)"/>
<rect x="365.36" y="4595.66" width="53.69" height="53.69" fill="rgb(83,83,83)"/>
<rect x="418.05" y="4595.66" width="53.69" height="53.69" fill="rgb(94,94,94)"/>
<rect x="470.74" y="4595.66" width="106.38" height="53.69" fill="rgb(50,50,50)"/>
<rect x="576.11" y="4595.66" width="53.69" height="53.69" fill="rgb(83,83,83)"/>
<rect x="628.8" y="4595.66" width="53.69" height="53.69" fill="rgb(94,94,94)"/>
<rect x="681.49" y="4595.66" width="159.06" height="53.69" fill="rgb(105,105,105)"/>
<rect x="839.55" y="4595.66" width="53.69" height="53.69" fill="rgb(116,116,116)"/>
<rect x="892.24" y="4595.66" width="53.69" height="53.69" fill="rgb(139,139,139)"/>
<rect x="944.92" y="4595.66" width="186.38" height="53.69" fill="rgb(205,205,205)"/>
<rect x="127.3" y="4648.35" width="186.38" height="53.69" fill="rgb(94,94,94)"/>
<rect x="312.67" y="4648.35" width="106.38" height="53.69" fill="rgb(83,83,83)"/>
<rect x="418.05" y="4648.35" width="53.69" height="53.69" fill="rgb(94,94,94)"/>
<rect x="470.74" y="4648.35" width="53.69" height="53.69" fill="rgb(61,61,61)"/>
<rect x="523.42" y="4648.35" width="53.69" height="53.69" fill="rgb(50,50,50)"/>
<rect x="576.11" y="4648.35" width="53.69" height="53.69" fill="rgb(61,61,61)"/>
<rect x="628.8" y="4648.35" width="53.69" height="53.69" fill="rgb(105,105,105)"/>
<rect x="681.49" y="4648.35" width="53.69" height="53.69" fill="rgb(116,116,116)"/>
<rect x="734.17" y="4648.35" width="53.69" height="53.69" fill="rgb(105,105,105)"/>
<rect x="786.86" y="4648.35" width="53.69" height="53.69" fill="rgb(116,116,116)"/>
<rect x="839.55" y="4648.35" width="53.69" height="53.69" fill="rgb(128,128,128)"/>
<rect x="892.24" y="4648.35" width="53.69" height="53.69" fill="rgb(139,139,139)"/>
<rect x="944.92" y="4648.35" width="186.38" height="53.69" fill="rgb(183,183,183)"/>
<rect x="127.3" y="4701.04" width="239.06" height="53.69" fill="rgb(72,72,72)"/>
<rect x="365.36" y="4701.04" width="53.69" height="53.69" fill="rgb(83,83,83)"/>
<rect x="418.05" y="4701.04" width="53.69" height="53.69" fill="rgb(94,94,94)"/>
<rect x="470.74" y="4701.04" width="53.69" height="53.69" fill="rgb(50,50,50)"/>
<rect x="523.42" y="4701.04" width="53.69" height="53.69" fill="rgb(28,28,28)"/>
<rect x="576.11" y="4701.04" width="53.69" height="53.69" fill="rgb(61,61,61)"/>
<rect x="628.8" y="4701.04" width="53.69" height="53.69" fill="rgb(105,105,105)"/>
<rect x="681.49" y="4701.04" width="53.69" height="53.69" fill="rgb(116,116,116)"/>
<rect x="734.17" y="4701.04" width="106.38" height="53.69" fill="rgb(105,105,105)"/>
<rect x="839.55" y="4701.04" width="53.69" height="53.69" fill="rgb(128,128,128)"/>
<rect x="892.24" y="4701.04" width="239.06" height="53.69" fill="rgb(139,139,139)"/>
<rect x="127.3" y="4753.73" width="291.75" height="53.69" fill="rgb(72,72,72)"/>
<rect x="418.05" y="4753.73" width="53.69" height="53.69" fill="rgb(83,83,83)"/>
<rect x="470.74" y="4753.73" width="53.69" height="53.69" fill="rgb(50,50,50)"/>
<rect x="523.42" y="4753.73" width="53.69" height="53.69" fill="rgb(28,28,28)"/>
<rect x="576.11" y="4753.73" width="53.69" height="53.69" fill="rgb(72,72,72)"/>
<rect x="628.8" y="4753.73" width="53.69" height="53.69" fill="rgb(94,94,94)"/>
<rect x="681.49" y="4753.73" width="159.06" height="53.69" fill="rgb(105,105,105)"/>
<rect x="839.55" y="4753.73" width="291.75" height="53.69" fill="rgb(128,128,128)"/>
<rect x="127.3" y="4806.41" width="397.12" height="133.69" fill="rgb(72,72,72)"/>
<rect x="523.42" y="4806.41" width="53.69" height="133.69" fill="rgb(50,50,50)"/>
<rect x="576.11" y="4806.41" width="53.69" height="133.69" fill="rgb(83,83,83)"/>
<rect x="628.8" y="4806.41" width="53.69" height="133.69" fill="rgb(105,105,105)"/>
<rect x="681.49" y="4806.41" width="449.81" height="133.69" fill="rgb(94,94,94)"/>
</g>
</g></g>
<rect x="201.4" y="4431" width="8" height="14" fill="#b9d340"/>
<rect x="1049.5" y="4431.3" width="9.4" height="13" fill="#5f74b4"/>
<rect x="622.7" y="4007.8" width="13.8" height="9" fill="#df9a32"/>
<rect x="622.7" y="4859.5" width="14.6" height="14" fill="#cfdc45"/>
<rect x="201.8" y="4880.5" width="19" height="55.1" fill="#8e2f2a"/>
<rect x="1038.4" y="4880.5" width="19" height="55.1" fill="#1a1a1a"/>
<rect x="424.1" y="4880.5" width="20.96" height="55.1" fill="#b5332a"/>
<rect x="444.46" y="4880.5" width="20.96" height="55.1" fill="#d03a2e"/>
<rect x="464.81" y="4880.5" width="20.96" height="55.1" fill="#dd6a2d"/>
<rect x="485.17" y="4880.5" width="20.96" height="55.1" fill="#dd8430"/>
<rect x="505.52" y="4880.5" width="20.96" height="55.1" fill="#df9a32"/>
<rect x="525.88" y="4880.5" width="20.96" height="55.1" fill="#e0b338"/>
<rect x="546.23" y="4880.5" width="20.96" height="55.1" fill="#e0d23d"/>
<rect x="566.59" y="4880.5" width="20.96" height="55.1" fill="#dade45"/>
<rect x="586.94" y="4880.5" width="20.96" height="55.1" fill="#b9d340"/>
<rect x="607.3" y="4880.5" width="20.96" height="55.1" fill="#9dc83c"/>
<rect x="627.65" y="4880.5" width="20.96" height="55.1" fill="#7ebb3e"/>
<rect x="648" y="4880.5" width="20.96" height="55.1" fill="#62b146"/>
<rect x="668.36" y="4880.5" width="20.96" height="55.1" fill="#5ab268"/>
<rect x="688.72" y="4880.5" width="20.96" height="55.1" fill="#5fa98d"/>
<rect x="709.07" y="4880.5" width="20.96" height="55.1" fill="#539fa8"/>
<rect x="729.42" y="4880.5" width="20.96" height="55.1" fill="#5f8ec2"/>
<rect x="749.78" y="4880.5" width="20.96" height="55.1" fill="#5874b1"/>
<rect x="770.13" y="4880.5" width="20.96" height="55.1" fill="#4f5ba0"/>
<rect x="790.49" y="4880.5" width="20.96" height="55.1" fill="#4a4390"/>
<rect x="810.85" y="4880.5" width="20.36" height="55.1" fill="#422a77"/>
<text class="lg" x="260.36" y="4927" font-size="41" stroke-width="0.9" textLength="118.78" lengthAdjust="spacingAndGlyphs">9.9 us</text>
<text class="lg" x="864.86" y="4927" font-size="41" stroke-width="0.9" textLength="139.78" lengthAdjust="spacingAndGlyphs">10.6 us</text>
<path class="gr" d="M1319 4032.3V4872.3M1491.7 4032.3V4872.3M1664.4 4032.3V4872.3M1837.1 4032.3V4872.3M2009.8 4032.3V4872.3M2182.5 4032.3V4872.3M1319 4662.3H2182.5M1319 4452.3H2182.5M1319 4242.3H2182.5M1319 4032.3H2182.5"/>
<path d="M1274 4872.3H2228" stroke="#666" stroke-width="3.2" fill="none"/>
<rect class="br" x="1275" y="4868.94" width="42.4" height="3.36" fill="#2a1a1a"/>
<rect class="br" x="1317.4" y="4838.7" width="43.33" height="33.6" fill="#b5332a"/>
<rect class="br" x="1360.73" y="4832.4" width="43.33" height="39.9" fill="#d03a2e"/>
<rect class="br" x="1404.06" y="4811.4" width="43.33" height="60.9" fill="#dd6a2d"/>
<rect class="br" x="1447.39" y="4712.7" width="43.33" height="159.6" fill="#dd8430"/>
<rect class="br" x="1490.72" y="4471.2" width="43.33" height="401.1" fill="#df9a32"/>
<rect class="br" x="1534.05" y="4053.3" width="43.33" height="819" fill="#e0b338"/>
<rect class="br" x="1577.38" y="4072.2" width="43.33" height="800.1" fill="#e0d23d"/>
<rect class="br" x="1620.71" y="4030.62" width="43.33" height="841.68" fill="#dade45"/>
<rect class="br" x="1664.04" y="4389.3" width="43.33" height="483" fill="#b9d340"/>
<rect class="br" x="1707.37" y="4719" width="43.33" height="153.3" fill="#9dc83c"/>
<rect class="br" x="1750.7" y="4782" width="43.33" height="90.3" fill="#7ebb3e"/>
<rect class="br" x="1794.03" y="4813.5" width="43.33" height="58.8" fill="#62b146"/>
<rect class="br" x="1837.36" y="4815.6" width="43.33" height="56.7" fill="#5ab268"/>
<rect class="br" x="1880.69" y="4832.4" width="43.33" height="39.9" fill="#5fa98d"/>
<rect class="br" x="1924.02" y="4836.6" width="43.33" height="35.7" fill="#539fa8"/>
<rect class="br" x="1967.35" y="4832.4" width="43.33" height="39.9" fill="#5f8ec2"/>
<rect class="br" x="2010.68" y="4838.7" width="43.33" height="33.6" fill="#5874b1"/>
<rect class="br" x="2054.01" y="4852.56" width="43.33" height="19.74" fill="#4f5ba0"/>
<rect class="br" x="2097.34" y="4862.22" width="43.33" height="10.08" fill="#4a4390"/>
<rect class="br" x="2140.67" y="4870.62" width="43.33" height="1.68" fill="#422a77"/>
<rect class="br" x="2184" y="4870.62" width="44" height="1.68" fill="#1a1a1a"/>
<text class="ty" x="1246.5" y="4881.6" text-anchor="middle">0</text>
<text class="ty" x="1246.5" y="4671.6" text-anchor="middle">5</text>
<text class="ty" x="1246.5" y="4461.6" text-anchor="middle">10</text>
<text class="ty" x="1246.5" y="4251.6" text-anchor="middle">15</text>
<text class="ty" x="1246.5" y="4041.6" text-anchor="middle">20</text>
<text class="tk" x="1318" y="4907.5" text-anchor="middle">9.9</text>
<text class="tk" x="1490.7" y="4907.5" text-anchor="middle">10.04</text>
<text class="tk" x="1663.4" y="4907.5" text-anchor="middle">10.18</text>
<text class="tk" x="1836.1" y="4907.5" text-anchor="middle">10.32</text>
<text class="tk" x="2008.8" y="4907.5" text-anchor="middle">10.46</text>
<text class="tk" x="2181.5" y="4907.5" text-anchor="middle">10.6</text>
<text class="ax" x="1750.25" y="4939.8" text-anchor="middle">Lifetime [us]</text>
<text class="ay" transform="translate(1215 4452.3) rotate(-90)" text-anchor="middle">Surface [%]</text>
</svg>
</body></html>
